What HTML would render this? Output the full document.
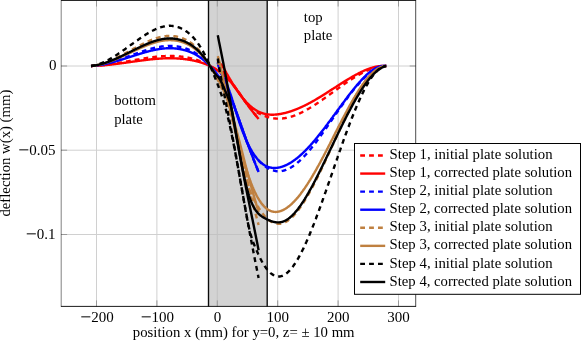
<!DOCTYPE html>
<html><head><meta charset="utf-8"><title>plot</title>
<style>
html,body{margin:0;padding:0;background:#fff;}
body{width:581px;height:341px;overflow:hidden;}
svg{display:block;will-change:transform;opacity:0.999;}
text{font-family:"Liberation Serif",serif;font-size:15px;fill:#000;}
</style></head><body>
<svg width="581" height="341" viewBox="0 0 581 341">
<rect x="0" y="0" width="581" height="341" fill="#fff"/>
<rect x="208.5" y="0.5" width="58.6" height="305.9" fill="#d3d3d3"/>
<line x1="96.5" y1="0.5" x2="96.5" y2="306.4" stroke="#d0d0d0" stroke-width="1"/>
<line x1="156.9" y1="0.5" x2="156.9" y2="306.4" stroke="#d0d0d0" stroke-width="1"/>
<line x1="217.3" y1="0.5" x2="217.3" y2="306.4" stroke="#d0d0d0" stroke-width="1"/>
<line x1="277.7" y1="0.5" x2="277.7" y2="306.4" stroke="#d0d0d0" stroke-width="1"/>
<line x1="338.1" y1="0.5" x2="338.1" y2="306.4" stroke="#d0d0d0" stroke-width="1"/>
<line x1="398.5" y1="0.5" x2="398.5" y2="306.4" stroke="#d0d0d0" stroke-width="1"/>
<line x1="61.1" y1="66.0" x2="415.7" y2="66.0" stroke="#d0d0d0" stroke-width="1"/>
<line x1="61.1" y1="150.2" x2="415.7" y2="150.2" stroke="#d0d0d0" stroke-width="1"/>
<line x1="61.1" y1="234.5" x2="415.7" y2="234.5" stroke="#d0d0d0" stroke-width="1"/>
<line x1="217.3" y1="0.5" x2="217.3" y2="306.4" stroke="#c3c3c3" stroke-width="1"/>
<line x1="208.5" y1="66.00" x2="267.2" y2="66.00" stroke="#c3c3c3" stroke-width="1"/>
<line x1="208.5" y1="150.25" x2="267.2" y2="150.25" stroke="#c3c3c3" stroke-width="1"/>
<line x1="208.5" y1="234.50" x2="267.2" y2="234.50" stroke="#c3c3c3" stroke-width="1"/>
<line x1="96.5" y1="0.5" x2="96.5" y2="6.5" stroke="#999" stroke-width="1"/>
<line x1="96.5" y1="306.4" x2="96.5" y2="300.4" stroke="#999" stroke-width="1"/>
<line x1="156.9" y1="0.5" x2="156.9" y2="6.5" stroke="#999" stroke-width="1"/>
<line x1="156.9" y1="306.4" x2="156.9" y2="300.4" stroke="#999" stroke-width="1"/>
<line x1="217.3" y1="0.5" x2="217.3" y2="6.5" stroke="#999" stroke-width="1"/>
<line x1="217.3" y1="306.4" x2="217.3" y2="300.4" stroke="#999" stroke-width="1"/>
<line x1="277.7" y1="0.5" x2="277.7" y2="6.5" stroke="#999" stroke-width="1"/>
<line x1="277.7" y1="306.4" x2="277.7" y2="300.4" stroke="#999" stroke-width="1"/>
<line x1="338.1" y1="0.5" x2="338.1" y2="6.5" stroke="#999" stroke-width="1"/>
<line x1="338.1" y1="306.4" x2="338.1" y2="300.4" stroke="#999" stroke-width="1"/>
<line x1="398.5" y1="0.5" x2="398.5" y2="6.5" stroke="#999" stroke-width="1"/>
<line x1="398.5" y1="306.4" x2="398.5" y2="300.4" stroke="#999" stroke-width="1"/>
<line x1="61.1" y1="66.0" x2="67.1" y2="66.0" stroke="#999" stroke-width="1"/>
<line x1="415.7" y1="66.0" x2="409.7" y2="66.0" stroke="#999" stroke-width="1"/>
<line x1="61.1" y1="150.2" x2="67.1" y2="150.2" stroke="#999" stroke-width="1"/>
<line x1="415.7" y1="150.2" x2="409.7" y2="150.2" stroke="#999" stroke-width="1"/>
<line x1="61.1" y1="234.5" x2="67.1" y2="234.5" stroke="#999" stroke-width="1"/>
<line x1="415.7" y1="234.5" x2="409.7" y2="234.5" stroke="#999" stroke-width="1"/>
<line x1="208.5" y1="0.5" x2="208.5" y2="306.4" stroke="#0a0a0a" stroke-width="1.35"/>
<line x1="267.2" y1="0.5" x2="267.2" y2="306.4" stroke="#0a0a0a" stroke-width="1.35"/>
<g stroke-linecap="butt" stroke-linejoin="round"><path d="M91.0 66.0 L91.4 66.0 L91.8 66.0 L92.2 66.0 L92.6 65.9 L93.0 65.9 L93.4 65.9 L93.8 65.9 L94.2 65.9 L94.6 65.8 L95.0 65.8 L95.4 65.8 L95.8 65.8 L96.2 65.7 L96.6 65.7 L97.0 65.7 L97.4 65.6 L97.8 65.6 L98.2 65.6 L98.6 65.6 L99.0 65.5 L99.4 65.5 L99.8 65.4 L100.2 65.4 L100.6 65.4 L101.0 65.3 L101.4 65.3 L101.8 65.3 L102.2 65.2 L102.6 65.2 L103.0 65.1 L103.4 65.1 L103.8 65.0 L104.2 65.0 L104.6 64.9 L105.0 64.9 L105.4 64.8 L105.8 64.8 L106.2 64.7 L106.6 64.7 L107.0 64.6 L107.4 64.6 L107.8 64.5 L108.2 64.5 L108.6 64.4 L109.0 64.4 L109.4 64.3 L109.8 64.3 L110.2 64.2 L110.6 64.2 L111.0 64.1 L111.4 64.0 L111.8 64.0 L112.2 63.9 L112.6 63.9 L113.0 63.8 L113.4 63.7 L113.8 63.7 L114.2 63.6 L114.6 63.6 L115.0 63.5 L115.4 63.4 L115.8 63.4 L116.2 63.3 L116.6 63.2 L117.0 63.2 L117.4 63.1 L117.8 63.0 L118.2 63.0 L118.6 62.9 L119.0 62.8 L119.4 62.8 L119.8 62.7 L120.2 62.6 L120.6 62.6 L121.0 62.5 L121.4 62.4 L121.8 62.4 L122.2 62.3 L122.6 62.2 L123.0 62.1 L123.4 62.1 L123.8 62.0 L124.2 61.9 L124.6 61.9 L125.0 61.8 L125.4 61.7 L125.8 61.6 L126.2 61.6 L126.6 61.5 L127.0 61.4 L127.4 61.4 L127.8 61.3 L128.2 61.2 L128.6 61.1 L129.0 61.1 L129.4 61.0 L129.8 60.9 L130.2 60.9 L130.6 60.8 L131.0 60.7 L131.4 60.6 L131.8 60.6 L132.2 60.5 L132.6 60.4 L133.0 60.4 L133.4 60.3 L133.8 60.2 L134.2 60.1 L134.6 60.1 L135.0 60.0 L135.4 59.9 L135.8 59.8 L136.2 59.8 L136.6 59.7 L137.0 59.6 L137.4 59.6 L137.8 59.5 L138.2 59.4 L138.6 59.4 L139.0 59.3 L139.4 59.2 L139.8 59.1 L140.2 59.1 L140.6 59.0 L141.0 58.9 L141.4 58.9 L141.8 58.8 L142.2 58.7 L142.6 58.7 L143.0 58.6 L143.4 58.5 L143.8 58.5 L144.2 58.4 L144.6 58.3 L145.0 58.3 L145.4 58.2 L145.8 58.1 L146.2 58.1 L146.6 58.0 L147.0 58.0 L147.4 57.9 L147.8 57.8 L148.2 57.8 L148.6 57.7 L149.0 57.7 L149.4 57.6 L149.8 57.5 L150.2 57.5 L150.6 57.4 L151.0 57.4 L151.4 57.3 L151.8 57.3 L152.2 57.2 L152.6 57.2 L153.0 57.1 L153.4 57.1 L153.8 57.0 L154.2 57.0 L154.6 56.9 L155.0 56.9 L155.4 56.8 L155.8 56.8 L156.2 56.7 L156.6 56.7 L157.0 56.7 L157.4 56.6 L157.8 56.6 L158.2 56.5 L158.6 56.5 L159.0 56.5 L159.4 56.4 L159.8 56.4 L160.2 56.4 L160.6 56.3 L161.0 56.3 L161.4 56.3 L161.8 56.2 L162.2 56.2 L162.6 56.2 L163.0 56.2 L163.4 56.1 L163.8 56.1 L164.2 56.1 L164.6 56.1 L165.0 56.1 L165.4 56.0 L165.8 56.0 L166.2 56.0 L166.6 56.0 L167.0 56.0 L167.4 56.0 L167.8 56.0 L168.2 56.0 L168.6 56.0 L169.0 56.0 L169.4 56.0 L169.8 56.0 L170.2 56.0 L170.6 56.0 L171.0 56.0 L171.4 56.0 L171.8 56.0 L172.2 56.0 L172.6 56.0 L173.0 56.0 L173.4 56.0 L173.8 56.0 L174.2 56.1 L174.6 56.1 L175.0 56.1 L175.4 56.1 L175.8 56.1 L176.2 56.2 L176.6 56.2 L177.0 56.2 L177.4 56.2 L177.8 56.3 L178.2 56.3 L178.6 56.3 L179.0 56.4 L179.4 56.4 L179.8 56.4 L180.2 56.5 L180.6 56.5 L181.0 56.6 L181.4 56.6 L181.8 56.7 L182.2 56.7 L182.6 56.8 L183.0 56.8 L183.4 56.9 L183.8 56.9 L184.2 57.0 L184.6 57.1 L185.0 57.1 L185.4 57.2 L185.8 57.2 L186.2 57.3 L186.6 57.4 L187.0 57.5 L187.4 57.5 L187.8 57.6 L188.2 57.7 L188.6 57.8 L189.0 57.8 L189.4 57.9 L189.8 58.0 L190.2 58.1 L190.6 58.2 L191.0 58.3 L191.4 58.4 L191.8 58.5 L192.2 58.6 L192.6 58.7 L193.0 58.8 L193.4 58.9 L193.8 59.0 L194.2 59.1 L194.6 59.2 L195.0 59.4 L195.4 59.5 L195.8 59.6 L196.2 59.7 L196.6 59.9 L197.0 60.0 L197.4 60.1 L197.8 60.3 L198.2 60.4 L198.6 60.6 L199.0 60.7 L199.4 60.9 L199.8 61.0 L200.2 61.2 L200.6 61.3 L201.0 61.5 L201.4 61.7 L201.8 61.8 L202.2 62.0 L202.6 62.2 L203.0 62.4 L203.4 62.5 L203.8 62.7 L204.2 62.9 L204.6 63.1 L205.0 63.3 L205.4 63.5 L205.8 63.7 L206.2 63.9 L206.6 64.1 L207.0 64.3 L207.4 64.5 L207.8 64.7 L208.2 64.9 L208.6 65.1 L209.0 65.4 L209.4 65.6 L209.8 65.8 L210.2 66.0 L210.6 66.2 L211.0 66.5 L211.4 66.7 L211.8 66.9 L212.2 67.2 L212.6 67.4 L213.0 67.6 L213.4 67.9 L213.8 68.1 L214.2 68.4 L214.6 68.6 L215.0 68.9 L215.4 69.1 L215.8 69.4 L216.2 69.6 L216.6 69.9 L217.0 70.1 L217.4 70.4 L217.8 70.7 L218.2 70.9 L218.6 71.2 L219.0 71.5 L219.4 71.7 L219.8 72.0 L220.2 72.3 L220.6 72.6 L221.0 72.9 L221.4 73.2 L221.8 73.5 L222.2 73.8 L222.6 74.1 L223.0 74.4 L223.4 74.7 L223.8 75.1 L224.2 75.4 L224.6 75.7 L225.0 76.1 L225.4 76.4 L225.8 76.8 L226.2 77.2 L226.6 77.6 L227.0 77.9 L227.4 78.3 L227.8 78.7 L228.2 79.2 L228.6 79.6 L229.0 80.0 L229.4 80.4 L229.8 80.9 L230.2 81.3 L230.6 81.8 L231.0 82.3 L231.4 82.7 L231.8 83.2 L232.2 83.7 L232.6 84.2 L233.0 84.7 L233.4 85.2 L233.8 85.7 L234.2 86.2 L234.6 86.8 L235.0 87.3 L235.4 87.8 L235.8 88.4 L236.2 88.9 L236.6 89.4 L237.0 90.0 L237.4 90.5 L237.8 91.1 L238.2 91.6 L238.6 92.2 L239.0 92.8 L239.4 93.3 L239.8 93.9 L240.2 94.4 L240.6 95.0 L241.0 95.6 L241.4 96.1 L241.8 96.7 L242.2 97.3 L242.6 97.8 L243.0 98.4 L243.4 99.0 L243.8 99.5 L244.2 100.1 L244.6 100.7 L245.0 101.2 L245.4 101.8 L245.8 102.3 L246.2 102.9 L246.6 103.4 L247.0 104.0 L247.4 104.5 L247.8 105.1 L248.2 105.6 L248.6 106.2 L249.0 106.7 L249.4 107.2 L249.8 107.8 L250.2 108.3 L250.6 108.8 L251.0 109.4 L251.4 109.9 L251.8 110.4 L252.2 110.9 L252.6 111.4 L253.0 112.0 L253.4 112.5 L253.8 113.0 L254.2 113.5 L254.6 114.0 L255.0 114.5 L255.4 115.0 L255.8 115.5 L256.2 116.0 L256.6 116.5 L257.0 117.0 L257.4 117.5 L257.8 118.0 L258.2 118.5 L258.6 119.0" fill="none" stroke="#ff0000" stroke-width="2.4" stroke-dasharray="4.8 4.1"/>
<path d="M217.8 64.1 L218.2 64.9 L218.6 65.5 L219.0 66.2 L219.4 66.8 L219.8 67.4 L220.2 67.9 L220.6 68.5 L221.0 69.0 L221.4 69.5 L221.8 70.0 L222.2 70.5 L222.6 71.0 L223.0 71.5 L223.4 72.0 L223.8 72.5 L224.2 73.0 L224.6 73.5 L225.0 74.0 L225.4 74.5 L225.8 75.0 L226.2 75.5 L226.6 76.0 L227.0 76.5 L227.4 77.0 L227.8 77.5 L228.2 78.0 L228.6 78.5 L229.0 79.1 L229.4 79.6 L229.8 80.1 L230.2 80.6 L230.6 81.2 L231.0 81.7 L231.4 82.2 L231.8 82.7 L232.2 83.3 L232.6 83.8 L233.0 84.4 L233.4 84.9 L233.8 85.5 L234.2 86.0 L234.6 86.6 L235.0 87.1 L235.4 87.7 L235.8 88.2 L236.2 88.8 L236.6 89.3 L237.0 89.9 L237.4 90.5 L237.8 91.0 L238.2 91.6 L238.6 92.2 L239.0 92.7 L239.4 93.3 L239.8 93.9 L240.2 94.4 L240.6 95.0 L241.0 95.6 L241.4 96.2 L241.8 96.7 L242.2 97.3 L242.6 97.9 L243.0 98.4 L243.4 99.0 L243.8 99.6 L244.2 100.1 L244.6 100.7 L245.0 101.3 L245.4 101.8 L245.8 102.4 L246.2 102.9 L246.6 103.5 L247.0 104.0 L247.4 104.5 L247.8 105.0 L248.2 105.5 L248.6 106.0 L249.0 106.4 L249.4 106.9 L249.8 107.3 L250.2 107.7 L250.6 108.0 L251.0 108.4 L251.4 108.7 L251.8 109.0 L252.2 109.3 L252.6 109.6 L253.0 109.9 L253.4 110.2 L253.8 110.4 L254.2 110.7 L254.6 110.9 L255.0 111.2 L255.4 111.4 L255.8 111.6 L256.2 111.9 L256.6 112.1 L257.0 112.3 L257.4 112.6 L257.8 112.8 L258.2 113.0 L258.6 113.2 L259.0 113.4 L259.4 113.6 L259.8 113.8 L260.2 114.0 L260.6 114.2 L261.0 114.4 L261.4 114.6 L261.8 114.8 L262.2 115.0 L262.6 115.2 L263.0 115.3 L263.4 115.5 L263.8 115.7 L264.2 115.8 L264.6 116.0 L265.0 116.1 L265.4 116.3 L265.8 116.4 L266.2 116.6 L266.6 116.7 L267.0 116.8 L267.4 116.9 L267.8 117.1 L268.2 117.2 L268.6 117.3 L269.0 117.4 L269.4 117.5 L269.8 117.6 L270.2 117.7 L270.6 117.8 L271.0 117.9 L271.4 117.9 L271.8 118.0 L272.2 118.1 L272.6 118.1 L273.0 118.2 L273.4 118.3 L273.8 118.3 L274.2 118.4 L274.6 118.4 L275.0 118.5 L275.4 118.5 L275.8 118.5 L276.2 118.6 L276.6 118.6 L277.0 118.6 L277.4 118.6 L277.8 118.6 L278.2 118.6 L278.6 118.6 L279.0 118.6 L279.4 118.6 L279.8 118.6 L280.2 118.6 L280.6 118.6 L281.0 118.6 L281.4 118.5 L281.8 118.5 L282.2 118.5 L282.6 118.4 L283.0 118.4 L283.4 118.3 L283.8 118.3 L284.2 118.2 L284.6 118.2 L285.0 118.1 L285.4 118.0 L285.8 118.0 L286.2 117.9 L286.6 117.8 L287.0 117.7 L287.4 117.7 L287.8 117.6 L288.2 117.5 L288.6 117.4 L289.0 117.3 L289.4 117.2 L289.8 117.1 L290.2 117.0 L290.6 116.8 L291.0 116.7 L291.4 116.6 L291.8 116.5 L292.2 116.4 L292.6 116.2 L293.0 116.1 L293.4 116.0 L293.8 115.8 L294.2 115.7 L294.6 115.5 L295.0 115.4 L295.4 115.2 L295.8 115.1 L296.2 114.9 L296.6 114.7 L297.0 114.6 L297.4 114.4 L297.8 114.2 L298.2 114.1 L298.6 113.9 L299.0 113.7 L299.4 113.5 L299.8 113.4 L300.2 113.2 L300.6 113.0 L301.0 112.8 L301.4 112.6 L301.8 112.4 L302.2 112.2 L302.6 112.0 L303.0 111.8 L303.4 111.6 L303.8 111.4 L304.2 111.2 L304.6 111.0 L305.0 110.7 L305.4 110.5 L305.8 110.3 L306.2 110.1 L306.6 109.9 L307.0 109.6 L307.4 109.4 L307.8 109.2 L308.2 108.9 L308.6 108.7 L309.0 108.5 L309.4 108.2 L309.8 108.0 L310.2 107.8 L310.6 107.5 L311.0 107.3 L311.4 107.0 L311.8 106.8 L312.2 106.5 L312.6 106.3 L313.0 106.0 L313.4 105.8 L313.8 105.5 L314.2 105.3 L314.6 105.0 L315.0 104.7 L315.4 104.5 L315.8 104.2 L316.2 104.0 L316.6 103.7 L317.0 103.4 L317.4 103.2 L317.8 102.9 L318.2 102.6 L318.6 102.3 L319.0 102.1 L319.4 101.8 L319.8 101.5 L320.2 101.2 L320.6 101.0 L321.0 100.7 L321.4 100.4 L321.8 100.1 L322.2 99.9 L322.6 99.6 L323.0 99.3 L323.4 99.0 L323.8 98.7 L324.2 98.5 L324.6 98.2 L325.0 97.9 L325.4 97.6 L325.8 97.3 L326.2 97.0 L326.6 96.7 L327.0 96.5 L327.4 96.2 L327.8 95.9 L328.2 95.6 L328.6 95.3 L329.0 95.0 L329.4 94.7 L329.8 94.4 L330.2 94.1 L330.6 93.9 L331.0 93.6 L331.4 93.3 L331.8 93.0 L332.2 92.7 L332.6 92.4 L333.0 92.1 L333.4 91.8 L333.8 91.5 L334.2 91.3 L334.6 91.0 L335.0 90.7 L335.4 90.4 L335.8 90.1 L336.2 89.8 L336.6 89.5 L337.0 89.2 L337.4 88.9 L337.8 88.7 L338.2 88.4 L338.6 88.1 L339.0 87.8 L339.4 87.5 L339.8 87.2 L340.2 86.9 L340.6 86.7 L341.0 86.4 L341.4 86.1 L341.8 85.8 L342.2 85.5 L342.6 85.2 L343.0 85.0 L343.4 84.7 L343.8 84.4 L344.2 84.1 L344.6 83.9 L345.0 83.6 L345.4 83.3 L345.8 83.0 L346.2 82.8 L346.6 82.5 L347.0 82.2 L347.4 81.9 L347.8 81.7 L348.2 81.4 L348.6 81.1 L349.0 80.9 L349.4 80.6 L349.8 80.4 L350.2 80.1 L350.6 79.8 L351.0 79.6 L351.4 79.3 L351.8 79.1 L352.2 78.8 L352.6 78.6 L353.0 78.3 L353.4 78.1 L353.8 77.8 L354.2 77.6 L354.6 77.3 L355.0 77.1 L355.4 76.8 L355.8 76.6 L356.2 76.3 L356.6 76.1 L357.0 75.9 L357.4 75.6 L357.8 75.4 L358.2 75.2 L358.6 75.0 L359.0 74.7 L359.4 74.5 L359.8 74.3 L360.2 74.1 L360.6 73.9 L361.0 73.6 L361.4 73.4 L361.8 73.2 L362.2 73.0 L362.6 72.8 L363.0 72.6 L363.4 72.4 L363.8 72.2 L364.2 72.0 L364.6 71.8 L365.0 71.6 L365.4 71.4 L365.8 71.2 L366.2 71.1 L366.6 70.9 L367.0 70.7 L367.4 70.5 L367.8 70.3 L368.2 70.2 L368.6 70.0 L369.0 69.8 L369.4 69.7 L369.8 69.5 L370.2 69.4 L370.6 69.2 L371.0 69.1 L371.4 68.9 L371.8 68.8 L372.2 68.6 L372.6 68.5 L373.0 68.4 L373.4 68.2 L373.8 68.1 L374.2 68.0 L374.6 67.9 L375.0 67.7 L375.4 67.6 L375.8 67.5 L376.2 67.4 L376.6 67.3 L377.0 67.2 L377.4 67.1 L377.8 67.0 L378.2 66.9 L378.6 66.9 L379.0 66.8 L379.4 66.7 L379.8 66.6 L380.2 66.6 L380.6 66.5 L381.0 66.4 L381.4 66.4 L381.8 66.3 L382.2 66.3 L382.6 66.2 L383.0 66.2 L383.4 66.1 L383.8 66.1 L384.2 66.1 L384.6 66.1 L385.0 66.0 L385.4 66.0 L385.8 66.0 L386.2 66.0" fill="none" stroke="#ff0000" stroke-width="2.4" stroke-dasharray="4.8 4.1"/>
<path d="M91.0 66.0 L91.4 66.0 L91.8 66.0 L92.2 66.0 L92.6 66.0 L93.0 65.9 L93.4 65.9 L93.8 65.9 L94.2 65.9 L94.6 65.9 L95.0 65.9 L95.4 65.8 L95.8 65.8 L96.2 65.8 L96.6 65.8 L97.0 65.8 L97.4 65.7 L97.8 65.7 L98.2 65.7 L98.6 65.7 L99.0 65.6 L99.4 65.6 L99.8 65.6 L100.2 65.5 L100.6 65.5 L101.0 65.5 L101.4 65.5 L101.8 65.4 L102.2 65.4 L102.6 65.4 L103.0 65.3 L103.4 65.3 L103.8 65.3 L104.2 65.2 L104.6 65.2 L105.0 65.2 L105.4 65.1 L105.8 65.1 L106.2 65.0 L106.6 65.0 L107.0 65.0 L107.4 64.9 L107.8 64.9 L108.2 64.8 L108.6 64.8 L109.0 64.8 L109.4 64.7 L109.8 64.7 L110.2 64.6 L110.6 64.6 L111.0 64.5 L111.4 64.5 L111.8 64.4 L112.2 64.4 L112.6 64.4 L113.0 64.3 L113.4 64.3 L113.8 64.2 L114.2 64.2 L114.6 64.1 L115.0 64.1 L115.4 64.0 L115.8 64.0 L116.2 63.9 L116.6 63.9 L117.0 63.8 L117.4 63.8 L117.8 63.7 L118.2 63.7 L118.6 63.6 L119.0 63.6 L119.4 63.5 L119.8 63.5 L120.2 63.4 L120.6 63.4 L121.0 63.3 L121.4 63.2 L121.8 63.2 L122.2 63.1 L122.6 63.1 L123.0 63.0 L123.4 63.0 L123.8 62.9 L124.2 62.9 L124.6 62.8 L125.0 62.8 L125.4 62.7 L125.8 62.7 L126.2 62.6 L126.6 62.5 L127.0 62.5 L127.4 62.4 L127.8 62.4 L128.2 62.3 L128.6 62.3 L129.0 62.2 L129.4 62.2 L129.8 62.1 L130.2 62.0 L130.6 62.0 L131.0 61.9 L131.4 61.9 L131.8 61.8 L132.2 61.8 L132.6 61.7 L133.0 61.6 L133.4 61.6 L133.8 61.5 L134.2 61.5 L134.6 61.4 L135.0 61.4 L135.4 61.3 L135.8 61.3 L136.2 61.2 L136.6 61.2 L137.0 61.1 L137.4 61.0 L137.8 61.0 L138.2 60.9 L138.6 60.9 L139.0 60.8 L139.4 60.8 L139.8 60.7 L140.2 60.7 L140.6 60.6 L141.0 60.6 L141.4 60.5 L141.8 60.5 L142.2 60.4 L142.6 60.4 L143.0 60.3 L143.4 60.3 L143.8 60.2 L144.2 60.2 L144.6 60.1 L145.0 60.1 L145.4 60.0 L145.8 60.0 L146.2 59.9 L146.6 59.9 L147.0 59.8 L147.4 59.8 L147.8 59.7 L148.2 59.7 L148.6 59.6 L149.0 59.6 L149.4 59.5 L149.8 59.5 L150.2 59.4 L150.6 59.4 L151.0 59.4 L151.4 59.3 L151.8 59.3 L152.2 59.2 L152.6 59.2 L153.0 59.2 L153.4 59.1 L153.8 59.1 L154.2 59.0 L154.6 59.0 L155.0 59.0 L155.4 58.9 L155.8 58.9 L156.2 58.9 L156.6 58.8 L157.0 58.8 L157.4 58.8 L157.8 58.7 L158.2 58.7 L158.6 58.7 L159.0 58.7 L159.4 58.6 L159.8 58.6 L160.2 58.6 L160.6 58.6 L161.0 58.5 L161.4 58.5 L161.8 58.5 L162.2 58.5 L162.6 58.4 L163.0 58.4 L163.4 58.4 L163.8 58.4 L164.2 58.4 L164.6 58.4 L165.0 58.3 L165.4 58.3 L165.8 58.3 L166.2 58.3 L166.6 58.3 L167.0 58.3 L167.4 58.3 L167.8 58.3 L168.2 58.3 L168.6 58.3 L169.0 58.3 L169.4 58.3 L169.8 58.3 L170.2 58.3 L170.6 58.3 L171.0 58.3 L171.4 58.3 L171.8 58.3 L172.2 58.3 L172.6 58.3 L173.0 58.3 L173.4 58.3 L173.8 58.3 L174.2 58.3 L174.6 58.4 L175.0 58.4 L175.4 58.4 L175.8 58.4 L176.2 58.4 L176.6 58.4 L177.0 58.5 L177.4 58.5 L177.8 58.5 L178.2 58.5 L178.6 58.6 L179.0 58.6 L179.4 58.6 L179.8 58.6 L180.2 58.7 L180.6 58.7 L181.0 58.7 L181.4 58.8 L181.8 58.8 L182.2 58.9 L182.6 58.9 L183.0 58.9 L183.4 59.0 L183.8 59.0 L184.2 59.1 L184.6 59.1 L185.0 59.2 L185.4 59.2 L185.8 59.3 L186.2 59.3 L186.6 59.4 L187.0 59.4 L187.4 59.5 L187.8 59.5 L188.2 59.6 L188.6 59.7 L189.0 59.7 L189.4 59.8 L189.8 59.9 L190.2 59.9 L190.6 60.0 L191.0 60.1 L191.4 60.1 L191.8 60.2 L192.2 60.3 L192.6 60.4 L193.0 60.5 L193.4 60.5 L193.8 60.6 L194.2 60.7 L194.6 60.8 L195.0 60.9 L195.4 61.0 L195.8 61.1 L196.2 61.2 L196.6 61.3 L197.0 61.4 L197.4 61.5 L197.8 61.6 L198.2 61.7 L198.6 61.8 L199.0 61.9 L199.4 62.0 L199.8 62.2 L200.2 62.3 L200.6 62.4 L201.0 62.5 L201.4 62.7 L201.8 62.8 L202.2 62.9 L202.6 63.1 L203.0 63.2 L203.4 63.3 L203.8 63.5 L204.2 63.6 L204.6 63.7 L205.0 63.9 L205.4 64.0 L205.8 64.2 L206.2 64.3 L206.6 64.5 L207.0 64.6 L207.4 64.8 L207.8 65.0 L208.2 65.1 L208.6 65.3 L209.0 65.5 L209.4 65.6 L209.8 65.8 L210.2 66.0 L210.6 66.2 L211.0 66.4 L211.4 66.6 L211.8 66.8 L212.2 67.0 L212.6 67.3 L213.0 67.5 L213.4 67.7 L213.8 67.9 L214.2 68.2 L214.6 68.4 L215.0 68.7 L215.4 68.9 L215.8 69.2 L216.2 69.4 L216.6 69.7 L217.0 70.0 L217.4 70.3 L217.8 70.5 L218.2 70.8 L218.6 71.1 L219.0 71.4 L219.4 71.7 L219.8 72.0 L220.2 72.3 L220.6 72.6 L221.0 72.9 L221.4 73.2 L221.8 73.5 L222.2 73.8 L222.6 74.1 L223.0 74.4 L223.4 74.7 L223.8 75.1 L224.2 75.4 L224.6 75.7 L225.0 76.1 L225.4 76.4 L225.8 76.8 L226.2 77.2 L226.6 77.6 L227.0 77.9 L227.4 78.3 L227.8 78.7 L228.2 79.2 L228.6 79.6 L229.0 80.0 L229.4 80.4 L229.8 80.9 L230.2 81.3 L230.6 81.8 L231.0 82.3 L231.4 82.7 L231.8 83.2 L232.2 83.7 L232.6 84.2 L233.0 84.7 L233.4 85.2 L233.8 85.7 L234.2 86.2 L234.6 86.8 L235.0 87.3 L235.4 87.8 L235.8 88.4 L236.2 88.9 L236.6 89.4 L237.0 90.0 L237.4 90.5 L237.8 91.1 L238.2 91.6 L238.6 92.2 L239.0 92.8 L239.4 93.3 L239.8 93.9 L240.2 94.4 L240.6 95.0 L241.0 95.6 L241.4 96.1 L241.8 96.7 L242.2 97.3 L242.6 97.8 L243.0 98.4 L243.4 99.0 L243.8 99.5 L244.2 100.1 L244.6 100.7 L245.0 101.2 L245.4 101.8 L245.8 102.3 L246.2 102.9 L246.6 103.4 L247.0 104.0 L247.4 104.5 L247.8 105.1 L248.2 105.6 L248.6 106.2 L249.0 106.7 L249.4 107.2 L249.8 107.8 L250.2 108.3 L250.6 108.8 L251.0 109.4 L251.4 109.9 L251.8 110.4 L252.2 110.9 L252.6 111.4 L253.0 112.0 L253.4 112.5 L253.8 113.0 L254.2 113.5 L254.6 114.0 L255.0 114.5 L255.4 115.0 L255.8 115.5 L256.2 116.0 L256.6 116.5 L257.0 117.0 L257.4 117.5 L257.8 118.0 L258.2 118.5 L258.6 119.0" fill="none" stroke="#ff0000" stroke-width="2.4"/>
<path d="M217.8 64.8 L218.2 64.3 L218.6 64.0 L219.0 63.8 L219.4 63.7 L219.8 63.7 L220.2 63.8 L220.6 64.1 L221.0 64.4 L221.4 64.7 L221.8 65.2 L222.2 65.7 L222.6 66.3 L223.0 66.9 L223.4 67.6 L223.8 68.2 L224.2 69.0 L224.6 69.7 L225.0 70.4 L225.4 71.1 L225.8 71.8 L226.2 72.6 L226.6 73.3 L227.0 74.0 L227.4 74.7 L227.8 75.4 L228.2 76.1 L228.6 76.8 L229.0 77.5 L229.4 78.2 L229.8 78.9 L230.2 79.5 L230.6 80.2 L231.0 80.9 L231.4 81.5 L231.8 82.2 L232.2 82.9 L232.6 83.5 L233.0 84.2 L233.4 84.8 L233.8 85.4 L234.2 86.1 L234.6 86.7 L235.0 87.3 L235.4 87.9 L235.8 88.5 L236.2 89.1 L236.6 89.7 L237.0 90.3 L237.4 90.9 L237.8 91.5 L238.2 92.1 L238.6 92.6 L239.0 93.2 L239.4 93.7 L239.8 94.3 L240.2 94.8 L240.6 95.4 L241.0 95.9 L241.4 96.4 L241.8 96.9 L242.2 97.4 L242.6 97.9 L243.0 98.4 L243.4 98.9 L243.8 99.3 L244.2 99.8 L244.6 100.3 L245.0 100.7 L245.4 101.2 L245.8 101.6 L246.2 102.0 L246.6 102.5 L247.0 102.9 L247.4 103.3 L247.8 103.7 L248.2 104.1 L248.6 104.5 L249.0 104.8 L249.4 105.2 L249.8 105.6 L250.2 105.9 L250.6 106.3 L251.0 106.6 L251.4 106.9 L251.8 107.3 L252.2 107.6 L252.6 107.9 L253.0 108.2 L253.4 108.5 L253.8 108.8 L254.2 109.1 L254.6 109.3 L255.0 109.6 L255.4 109.9 L255.8 110.1 L256.2 110.4 L256.6 110.6 L257.0 110.8 L257.4 111.0 L257.8 111.2 L258.2 111.5 L258.6 111.7 L259.0 111.8 L259.4 112.0 L259.8 112.2 L260.2 112.4 L260.6 112.5 L261.0 112.7 L261.4 112.8 L261.8 113.0 L262.2 113.1 L262.6 113.3 L263.0 113.4 L263.4 113.5 L263.8 113.6 L264.2 113.7 L264.6 113.8 L265.0 113.9 L265.4 114.0 L265.8 114.1 L266.2 114.2 L266.6 114.2 L267.0 114.3 L267.4 114.4 L267.8 114.4 L268.2 114.5 L268.6 114.5 L269.0 114.5 L269.4 114.6 L269.8 114.6 L270.2 114.6 L270.6 114.7 L271.0 114.7 L271.4 114.7 L271.8 114.7 L272.2 114.7 L272.6 114.7 L273.0 114.7 L273.4 114.7 L273.8 114.7 L274.2 114.6 L274.6 114.6 L275.0 114.6 L275.4 114.6 L275.8 114.5 L276.2 114.5 L276.6 114.5 L277.0 114.4 L277.4 114.4 L277.8 114.3 L278.2 114.3 L278.6 114.2 L279.0 114.2 L279.4 114.1 L279.8 114.0 L280.2 114.0 L280.6 113.9 L281.0 113.8 L281.4 113.8 L281.8 113.7 L282.2 113.6 L282.6 113.5 L283.0 113.4 L283.4 113.3 L283.8 113.3 L284.2 113.2 L284.6 113.1 L285.0 113.0 L285.4 112.9 L285.8 112.8 L286.2 112.7 L286.6 112.6 L287.0 112.4 L287.4 112.3 L287.8 112.2 L288.2 112.1 L288.6 112.0 L289.0 111.9 L289.4 111.7 L289.8 111.6 L290.2 111.5 L290.6 111.4 L291.0 111.2 L291.4 111.1 L291.8 111.0 L292.2 110.8 L292.6 110.7 L293.0 110.5 L293.4 110.4 L293.8 110.2 L294.2 110.1 L294.6 109.9 L295.0 109.8 L295.4 109.6 L295.8 109.5 L296.2 109.3 L296.6 109.2 L297.0 109.0 L297.4 108.8 L297.8 108.7 L298.2 108.5 L298.6 108.3 L299.0 108.2 L299.4 108.0 L299.8 107.8 L300.2 107.6 L300.6 107.5 L301.0 107.3 L301.4 107.1 L301.8 106.9 L302.2 106.7 L302.6 106.5 L303.0 106.3 L303.4 106.2 L303.8 106.0 L304.2 105.8 L304.6 105.6 L305.0 105.4 L305.4 105.2 L305.8 105.0 L306.2 104.8 L306.6 104.6 L307.0 104.4 L307.4 104.2 L307.8 104.0 L308.2 103.7 L308.6 103.5 L309.0 103.3 L309.4 103.1 L309.8 102.9 L310.2 102.7 L310.6 102.5 L311.0 102.2 L311.4 102.0 L311.8 101.8 L312.2 101.6 L312.6 101.4 L313.0 101.1 L313.4 100.9 L313.8 100.7 L314.2 100.5 L314.6 100.2 L315.0 100.0 L315.4 99.8 L315.8 99.5 L316.2 99.3 L316.6 99.1 L317.0 98.8 L317.4 98.6 L317.8 98.3 L318.2 98.1 L318.6 97.9 L319.0 97.6 L319.4 97.4 L319.8 97.1 L320.2 96.9 L320.6 96.7 L321.0 96.4 L321.4 96.2 L321.8 95.9 L322.2 95.7 L322.6 95.4 L323.0 95.2 L323.4 94.9 L323.8 94.7 L324.2 94.4 L324.6 94.2 L325.0 93.9 L325.4 93.7 L325.8 93.4 L326.2 93.2 L326.6 92.9 L327.0 92.6 L327.4 92.4 L327.8 92.1 L328.2 91.9 L328.6 91.6 L329.0 91.4 L329.4 91.1 L329.8 90.8 L330.2 90.6 L330.6 90.3 L331.0 90.1 L331.4 89.8 L331.8 89.6 L332.2 89.3 L332.6 89.0 L333.0 88.8 L333.4 88.5 L333.8 88.3 L334.2 88.0 L334.6 87.7 L335.0 87.5 L335.4 87.2 L335.8 87.0 L336.2 86.7 L336.6 86.5 L337.0 86.2 L337.4 85.9 L337.8 85.7 L338.2 85.4 L338.6 85.2 L339.0 84.9 L339.4 84.7 L339.8 84.4 L340.2 84.1 L340.6 83.9 L341.0 83.6 L341.4 83.4 L341.8 83.1 L342.2 82.9 L342.6 82.6 L343.0 82.4 L343.4 82.1 L343.8 81.9 L344.2 81.6 L344.6 81.4 L345.0 81.1 L345.4 80.9 L345.8 80.6 L346.2 80.4 L346.6 80.1 L347.0 79.9 L347.4 79.7 L347.8 79.4 L348.2 79.2 L348.6 78.9 L349.0 78.7 L349.4 78.5 L349.8 78.2 L350.2 78.0 L350.6 77.7 L351.0 77.5 L351.4 77.3 L351.8 77.1 L352.2 76.8 L352.6 76.6 L353.0 76.4 L353.4 76.1 L353.8 75.9 L354.2 75.7 L354.6 75.5 L355.0 75.2 L355.4 75.0 L355.8 74.8 L356.2 74.6 L356.6 74.4 L357.0 74.2 L357.4 74.0 L357.8 73.7 L358.2 73.5 L358.6 73.3 L359.0 73.1 L359.4 72.9 L359.8 72.7 L360.2 72.5 L360.6 72.3 L361.0 72.1 L361.4 71.9 L361.8 71.7 L362.2 71.6 L362.6 71.4 L363.0 71.2 L363.4 71.0 L363.8 70.8 L364.2 70.6 L364.6 70.5 L365.0 70.3 L365.4 70.1 L365.8 70.0 L366.2 69.8 L366.6 69.6 L367.0 69.5 L367.4 69.3 L367.8 69.2 L368.2 69.0 L368.6 68.9 L369.0 68.7 L369.4 68.6 L369.8 68.4 L370.2 68.3 L370.6 68.2 L371.0 68.0 L371.4 67.9 L371.8 67.8 L372.2 67.7 L372.6 67.6 L373.0 67.4 L373.4 67.3 L373.8 67.2 L374.2 67.1 L374.6 67.0 L375.0 66.9 L375.4 66.8 L375.8 66.8 L376.2 66.7 L376.6 66.6 L377.0 66.5 L377.4 66.5 L377.8 66.4 L378.2 66.3 L378.6 66.3 L379.0 66.2 L379.4 66.2 L379.8 66.1 L380.2 66.1 L380.6 66.0 L381.0 66.0 L381.4 66.0 L381.8 65.9 L382.2 65.9 L382.6 65.9 L383.0 65.9 L383.4 65.9 L383.8 65.9 L384.2 65.9 L384.6 65.9 L385.0 65.9 L385.4 65.9 L385.8 66.0 L386.2 66.0" fill="none" stroke="#ff0000" stroke-width="2.4"/>
<path d="M91.0 66.0 L91.4 66.0 L91.8 65.9 L92.2 65.9 L92.6 65.9 L93.0 65.8 L93.4 65.8 L93.8 65.8 L94.2 65.7 L94.6 65.7 L95.0 65.6 L95.4 65.6 L95.8 65.5 L96.2 65.5 L96.6 65.4 L97.0 65.4 L97.4 65.3 L97.8 65.2 L98.2 65.2 L98.6 65.1 L99.0 65.0 L99.4 65.0 L99.8 64.9 L100.2 64.8 L100.6 64.7 L101.0 64.7 L101.4 64.6 L101.8 64.5 L102.2 64.4 L102.6 64.3 L103.0 64.3 L103.4 64.2 L103.8 64.1 L104.2 64.0 L104.6 63.9 L105.0 63.8 L105.4 63.7 L105.8 63.6 L106.2 63.5 L106.6 63.4 L107.0 63.3 L107.4 63.2 L107.8 63.1 L108.2 63.0 L108.6 62.9 L109.0 62.8 L109.4 62.7 L109.8 62.5 L110.2 62.4 L110.6 62.3 L111.0 62.2 L111.4 62.1 L111.8 62.0 L112.2 61.8 L112.6 61.7 L113.0 61.6 L113.4 61.5 L113.8 61.4 L114.2 61.2 L114.6 61.1 L115.0 61.0 L115.4 60.9 L115.8 60.7 L116.2 60.6 L116.6 60.5 L117.0 60.3 L117.4 60.2 L117.8 60.1 L118.2 59.9 L118.6 59.8 L119.0 59.7 L119.4 59.5 L119.8 59.4 L120.2 59.3 L120.6 59.1 L121.0 59.0 L121.4 58.9 L121.8 58.7 L122.2 58.6 L122.6 58.4 L123.0 58.3 L123.4 58.2 L123.8 58.0 L124.2 57.9 L124.6 57.7 L125.0 57.6 L125.4 57.4 L125.8 57.3 L126.2 57.2 L126.6 57.0 L127.0 56.9 L127.4 56.7 L127.8 56.6 L128.2 56.4 L128.6 56.3 L129.0 56.1 L129.4 56.0 L129.8 55.9 L130.2 55.7 L130.6 55.6 L131.0 55.4 L131.4 55.3 L131.8 55.1 L132.2 55.0 L132.6 54.8 L133.0 54.7 L133.4 54.6 L133.8 54.4 L134.2 54.3 L134.6 54.1 L135.0 54.0 L135.4 53.8 L135.8 53.7 L136.2 53.6 L136.6 53.4 L137.0 53.3 L137.4 53.1 L137.8 53.0 L138.2 52.8 L138.6 52.7 L139.0 52.6 L139.4 52.4 L139.8 52.3 L140.2 52.1 L140.6 52.0 L141.0 51.9 L141.4 51.7 L141.8 51.6 L142.2 51.5 L142.6 51.3 L143.0 51.2 L143.4 51.1 L143.8 50.9 L144.2 50.8 L144.6 50.7 L145.0 50.5 L145.4 50.4 L145.8 50.3 L146.2 50.2 L146.6 50.0 L147.0 49.9 L147.4 49.8 L147.8 49.7 L148.2 49.6 L148.6 49.4 L149.0 49.3 L149.4 49.2 L149.8 49.1 L150.2 49.0 L150.6 48.9 L151.0 48.8 L151.4 48.6 L151.8 48.5 L152.2 48.4 L152.6 48.3 L153.0 48.2 L153.4 48.1 L153.8 48.0 L154.2 47.9 L154.6 47.8 L155.0 47.7 L155.4 47.7 L155.8 47.6 L156.2 47.5 L156.6 47.4 L157.0 47.3 L157.4 47.2 L157.8 47.2 L158.2 47.1 L158.6 47.0 L159.0 46.9 L159.4 46.9 L159.8 46.8 L160.2 46.7 L160.6 46.7 L161.0 46.6 L161.4 46.5 L161.8 46.5 L162.2 46.4 L162.6 46.4 L163.0 46.3 L163.4 46.3 L163.8 46.2 L164.2 46.2 L164.6 46.2 L165.0 46.1 L165.4 46.1 L165.8 46.1 L166.2 46.0 L166.6 46.0 L167.0 46.0 L167.4 46.0 L167.8 46.0 L168.2 45.9 L168.6 45.9 L169.0 45.9 L169.4 45.9 L169.8 45.9 L170.2 45.9 L170.6 45.9 L171.0 45.9 L171.4 45.9 L171.8 46.0 L172.2 46.0 L172.6 46.0 L173.0 46.0 L173.4 46.0 L173.8 46.1 L174.2 46.1 L174.6 46.1 L175.0 46.2 L175.4 46.2 L175.8 46.3 L176.2 46.3 L176.6 46.4 L177.0 46.4 L177.4 46.5 L177.8 46.5 L178.2 46.6 L178.6 46.7 L179.0 46.7 L179.4 46.8 L179.8 46.9 L180.2 47.0 L180.6 47.1 L181.0 47.2 L181.4 47.2 L181.8 47.3 L182.2 47.4 L182.6 47.5 L183.0 47.7 L183.4 47.8 L183.8 47.9 L184.2 48.0 L184.6 48.1 L185.0 48.2 L185.4 48.4 L185.8 48.5 L186.2 48.6 L186.6 48.8 L187.0 48.9 L187.4 49.1 L187.8 49.2 L188.2 49.4 L188.6 49.5 L189.0 49.7 L189.4 49.9 L189.8 50.0 L190.2 50.2 L190.6 50.4 L191.0 50.6 L191.4 50.8 L191.8 51.0 L192.2 51.2 L192.6 51.4 L193.0 51.6 L193.4 51.8 L193.8 52.0 L194.2 52.3 L194.6 52.5 L195.0 52.7 L195.4 53.0 L195.8 53.2 L196.2 53.5 L196.6 53.7 L197.0 54.0 L197.4 54.3 L197.8 54.5 L198.2 54.8 L198.6 55.1 L199.0 55.4 L199.4 55.7 L199.8 56.0 L200.2 56.3 L200.6 56.7 L201.0 57.0 L201.4 57.3 L201.8 57.7 L202.2 58.0 L202.6 58.4 L203.0 58.7 L203.4 59.1 L203.8 59.4 L204.2 59.8 L204.6 60.2 L205.0 60.6 L205.4 61.0 L205.8 61.4 L206.2 61.8 L206.6 62.2 L207.0 62.6 L207.4 63.0 L207.8 63.4 L208.2 63.8 L208.6 64.3 L209.0 64.7 L209.4 65.1 L209.8 65.6 L210.2 66.0 L210.6 66.5 L211.0 66.9 L211.4 67.4 L211.8 67.9 L212.2 68.3 L212.6 68.8 L213.0 69.3 L213.4 69.8 L213.8 70.3 L214.2 70.8 L214.6 71.3 L215.0 71.7 L215.4 72.3 L215.8 72.8 L216.2 73.3 L216.6 73.8 L217.0 74.3 L217.4 74.8 L217.8 75.3 L218.2 75.9 L218.6 76.4 L219.0 76.9 L219.4 77.5 L219.8 78.0 L220.2 78.6 L220.6 79.2 L221.0 79.8 L221.4 80.4 L221.8 81.0 L222.2 81.6 L222.6 82.2 L223.0 82.8 L223.4 83.5 L223.8 84.1 L224.2 84.8 L224.6 85.5 L225.0 86.2 L225.4 86.9 L225.8 87.6 L226.2 88.4 L226.6 89.1 L227.0 89.9 L227.4 90.7 L227.8 91.5 L228.2 92.3 L228.6 93.2 L229.0 94.0 L229.4 94.9 L229.8 95.8 L230.2 96.7 L230.6 97.6 L231.0 98.5 L231.4 99.5 L231.8 100.5 L232.2 101.4 L232.6 102.4 L233.0 103.4 L233.4 104.4 L233.8 105.5 L234.2 106.5 L234.6 107.5 L235.0 108.6 L235.4 109.7 L235.8 110.7 L236.2 111.8 L236.6 112.9 L237.0 114.0 L237.4 115.1 L237.8 116.2 L238.2 117.3 L238.6 118.4 L239.0 119.5 L239.4 120.6 L239.8 121.8 L240.2 122.9 L240.6 124.0 L241.0 125.1 L241.4 126.3 L241.8 127.4 L242.2 128.5 L242.6 129.7 L243.0 130.8 L243.4 131.9 L243.8 133.1 L244.2 134.2 L244.6 135.3 L245.0 136.4 L245.4 137.5 L245.8 138.6 L246.2 139.8 L246.6 140.9 L247.0 142.0 L247.4 143.0 L247.8 144.1 L248.2 145.2 L248.6 146.3 L249.0 147.4 L249.4 148.5 L249.8 149.5 L250.2 150.6 L250.6 151.6 L251.0 152.7 L251.4 153.8 L251.8 154.8 L252.2 155.8 L252.6 156.9 L253.0 157.9 L253.4 159.0 L253.8 160.0 L254.2 161.0 L254.6 162.0 L255.0 163.0 L255.4 164.0 L255.8 165.1 L256.2 166.1 L256.6 167.0 L257.0 168.0 L257.4 169.0 L257.8 170.0 L258.2 171.0 L258.6 172.0" fill="none" stroke="#0000ff" stroke-width="2.4" stroke-dasharray="4.8 4.1"/>
<path d="M217.8 62.3 L218.2 63.7 L218.6 65.1 L219.0 66.4 L219.4 67.6 L219.8 68.7 L220.2 69.8 L220.6 70.9 L221.0 72.0 L221.4 73.0 L221.8 74.0 L222.2 75.0 L222.6 76.0 L223.0 77.0 L223.4 78.0 L223.8 79.0 L224.2 80.0 L224.6 81.0 L225.0 82.0 L225.4 83.0 L225.8 84.0 L226.2 85.0 L226.6 86.0 L227.0 87.0 L227.4 88.0 L227.8 89.0 L228.2 90.1 L228.6 91.1 L229.0 92.1 L229.4 93.2 L229.8 94.2 L230.2 95.3 L230.6 96.3 L231.0 97.4 L231.4 98.4 L231.8 99.5 L232.2 100.6 L232.6 101.7 L233.0 102.7 L233.4 103.8 L233.8 104.9 L234.2 106.0 L234.6 107.1 L235.0 108.2 L235.4 109.3 L235.8 110.4 L236.2 111.6 L236.6 112.7 L237.0 113.8 L237.4 114.9 L237.8 116.1 L238.2 117.2 L238.6 118.3 L239.0 119.5 L239.4 120.6 L239.8 121.8 L240.2 122.9 L240.6 124.0 L241.0 125.2 L241.4 126.3 L241.8 127.5 L242.2 128.6 L242.6 129.7 L243.0 130.9 L243.4 132.0 L243.8 133.2 L244.2 134.3 L244.6 135.4 L245.0 136.6 L245.4 137.7 L245.8 138.8 L246.2 139.9 L246.6 141.0 L247.0 142.0 L247.4 143.0 L247.8 144.0 L248.2 145.0 L248.6 146.0 L249.0 146.9 L249.4 147.7 L249.8 148.6 L250.2 149.4 L250.6 150.1 L251.0 150.8 L251.4 151.5 L251.8 152.1 L252.2 152.7 L252.6 153.3 L253.0 153.8 L253.4 154.3 L253.8 154.9 L254.2 155.4 L254.6 155.8 L255.0 156.3 L255.4 156.8 L255.8 157.3 L256.2 157.7 L256.6 158.2 L257.0 158.7 L257.4 159.1 L257.8 159.5 L258.2 160.0 L258.6 160.4 L259.0 160.8 L259.4 161.3 L259.8 161.7 L260.2 162.1 L260.6 162.5 L261.0 162.9 L261.4 163.3 L261.8 163.6 L262.2 164.0 L262.6 164.3 L263.0 164.7 L263.4 165.0 L263.8 165.4 L264.2 165.7 L264.6 166.0 L265.0 166.3 L265.4 166.6 L265.8 166.9 L266.2 167.1 L266.6 167.4 L267.0 167.6 L267.4 167.9 L267.8 168.1 L268.2 168.4 L268.6 168.6 L269.0 168.8 L269.4 169.0 L269.8 169.2 L270.2 169.4 L270.6 169.5 L271.0 169.7 L271.4 169.9 L271.8 170.0 L272.2 170.2 L272.6 170.3 L273.0 170.4 L273.4 170.5 L273.8 170.6 L274.2 170.7 L274.6 170.8 L275.0 170.9 L275.4 171.0 L275.8 171.1 L276.2 171.1 L276.6 171.2 L277.0 171.2 L277.4 171.2 L277.8 171.2 L278.2 171.3 L278.6 171.3 L279.0 171.3 L279.4 171.2 L279.8 171.2 L280.2 171.2 L280.6 171.2 L281.0 171.1 L281.4 171.1 L281.8 171.0 L282.2 170.9 L282.6 170.9 L283.0 170.8 L283.4 170.7 L283.8 170.6 L284.2 170.5 L284.6 170.3 L285.0 170.2 L285.4 170.1 L285.8 169.9 L286.2 169.8 L286.6 169.6 L287.0 169.5 L287.4 169.3 L287.8 169.1 L288.2 168.9 L288.6 168.8 L289.0 168.6 L289.4 168.3 L289.8 168.1 L290.2 167.9 L290.6 167.7 L291.0 167.5 L291.4 167.2 L291.8 167.0 L292.2 166.7 L292.6 166.4 L293.0 166.2 L293.4 165.9 L293.8 165.6 L294.2 165.3 L294.6 165.0 L295.0 164.8 L295.4 164.4 L295.8 164.1 L296.2 163.8 L296.6 163.5 L297.0 163.2 L297.4 162.8 L297.8 162.5 L298.2 162.1 L298.6 161.8 L299.0 161.4 L299.4 161.1 L299.8 160.7 L300.2 160.3 L300.6 160.0 L301.0 159.6 L301.4 159.2 L301.8 158.8 L302.2 158.4 L302.6 158.0 L303.0 157.6 L303.4 157.2 L303.8 156.8 L304.2 156.3 L304.6 155.9 L305.0 155.5 L305.4 155.1 L305.8 154.6 L306.2 154.2 L306.6 153.7 L307.0 153.3 L307.4 152.8 L307.8 152.4 L308.2 151.9 L308.6 151.4 L309.0 151.0 L309.4 150.5 L309.8 150.0 L310.2 149.5 L310.6 149.0 L311.0 148.5 L311.4 148.1 L311.8 147.6 L312.2 147.1 L312.6 146.6 L313.0 146.1 L313.4 145.5 L313.8 145.0 L314.2 144.5 L314.6 144.0 L315.0 143.5 L315.4 143.0 L315.8 142.4 L316.2 141.9 L316.6 141.4 L317.0 140.8 L317.4 140.3 L317.8 139.8 L318.2 139.2 L318.6 138.7 L319.0 138.1 L319.4 137.6 L319.8 137.0 L320.2 136.5 L320.6 135.9 L321.0 135.4 L321.4 134.8 L321.8 134.3 L322.2 133.7 L322.6 133.2 L323.0 132.6 L323.4 132.0 L323.8 131.5 L324.2 130.9 L324.6 130.3 L325.0 129.8 L325.4 129.2 L325.8 128.6 L326.2 128.1 L326.6 127.5 L327.0 126.9 L327.4 126.3 L327.8 125.8 L328.2 125.2 L328.6 124.6 L329.0 124.0 L329.4 123.5 L329.8 122.9 L330.2 122.3 L330.6 121.7 L331.0 121.1 L331.4 120.6 L331.8 120.0 L332.2 119.4 L332.6 118.8 L333.0 118.2 L333.4 117.7 L333.8 117.1 L334.2 116.5 L334.6 115.9 L335.0 115.3 L335.4 114.8 L335.8 114.2 L336.2 113.6 L336.6 113.0 L337.0 112.5 L337.4 111.9 L337.8 111.3 L338.2 110.7 L338.6 110.2 L339.0 109.6 L339.4 109.0 L339.8 108.4 L340.2 107.9 L340.6 107.3 L341.0 106.7 L341.4 106.2 L341.8 105.6 L342.2 105.1 L342.6 104.5 L343.0 103.9 L343.4 103.4 L343.8 102.8 L344.2 102.3 L344.6 101.7 L345.0 101.2 L345.4 100.6 L345.8 100.1 L346.2 99.5 L346.6 99.0 L347.0 98.4 L347.4 97.9 L347.8 97.4 L348.2 96.8 L348.6 96.3 L349.0 95.8 L349.4 95.2 L349.8 94.7 L350.2 94.2 L350.6 93.7 L351.0 93.1 L351.4 92.6 L351.8 92.1 L352.2 91.6 L352.6 91.1 L353.0 90.6 L353.4 90.1 L353.8 89.6 L354.2 89.1 L354.6 88.6 L355.0 88.1 L355.4 87.7 L355.8 87.2 L356.2 86.7 L356.6 86.2 L357.0 85.8 L357.4 85.3 L357.8 84.8 L358.2 84.4 L358.6 83.9 L359.0 83.5 L359.4 83.0 L359.8 82.6 L360.2 82.1 L360.6 81.7 L361.0 81.3 L361.4 80.8 L361.8 80.4 L362.2 80.0 L362.6 79.6 L363.0 79.2 L363.4 78.8 L363.8 78.4 L364.2 78.0 L364.6 77.6 L365.0 77.2 L365.4 76.9 L365.8 76.5 L366.2 76.1 L366.6 75.7 L367.0 75.4 L367.4 75.0 L367.8 74.7 L368.2 74.4 L368.6 74.0 L369.0 73.7 L369.4 73.4 L369.8 73.1 L370.2 72.7 L370.6 72.4 L371.0 72.1 L371.4 71.8 L371.8 71.6 L372.2 71.3 L372.6 71.0 L373.0 70.7 L373.4 70.5 L373.8 70.2 L374.2 70.0 L374.6 69.7 L375.0 69.5 L375.4 69.3 L375.8 69.0 L376.2 68.8 L376.6 68.6 L377.0 68.4 L377.4 68.2 L377.8 68.1 L378.2 67.9 L378.6 67.7 L379.0 67.5 L379.4 67.4 L379.8 67.2 L380.2 67.1 L380.6 67.0 L381.0 66.9 L381.4 66.7 L381.8 66.6 L382.2 66.5 L382.6 66.4 L383.0 66.4 L383.4 66.3 L383.8 66.2 L384.2 66.2 L384.6 66.1 L385.0 66.1 L385.4 66.0 L385.8 66.0 L386.2 66.0" fill="none" stroke="#0000ff" stroke-width="2.4" stroke-dasharray="4.8 4.1"/>
<path d="M91.0 66.0 L91.4 66.0 L91.8 66.0 L92.2 65.9 L92.6 65.9 L93.0 65.9 L93.4 65.8 L93.8 65.8 L94.2 65.8 L94.6 65.7 L95.0 65.7 L95.4 65.6 L95.8 65.6 L96.2 65.5 L96.6 65.5 L97.0 65.4 L97.4 65.4 L97.8 65.3 L98.2 65.3 L98.6 65.2 L99.0 65.1 L99.4 65.1 L99.8 65.0 L100.2 65.0 L100.6 64.9 L101.0 64.8 L101.4 64.7 L101.8 64.7 L102.2 64.6 L102.6 64.5 L103.0 64.5 L103.4 64.4 L103.8 64.3 L104.2 64.2 L104.6 64.1 L105.0 64.0 L105.4 64.0 L105.8 63.9 L106.2 63.8 L106.6 63.7 L107.0 63.6 L107.4 63.5 L107.8 63.4 L108.2 63.3 L108.6 63.2 L109.0 63.1 L109.4 63.0 L109.8 62.9 L110.2 62.8 L110.6 62.7 L111.0 62.6 L111.4 62.5 L111.8 62.4 L112.2 62.3 L112.6 62.2 L113.0 62.1 L113.4 62.0 L113.8 61.9 L114.2 61.8 L114.6 61.7 L115.0 61.6 L115.4 61.4 L115.8 61.3 L116.2 61.2 L116.6 61.1 L117.0 61.0 L117.4 60.9 L117.8 60.8 L118.2 60.6 L118.6 60.5 L119.0 60.4 L119.4 60.3 L119.8 60.2 L120.2 60.0 L120.6 59.9 L121.0 59.8 L121.4 59.7 L121.8 59.6 L122.2 59.4 L122.6 59.3 L123.0 59.2 L123.4 59.1 L123.8 58.9 L124.2 58.8 L124.6 58.7 L125.0 58.6 L125.4 58.4 L125.8 58.3 L126.2 58.2 L126.6 58.0 L127.0 57.9 L127.4 57.8 L127.8 57.7 L128.2 57.5 L128.6 57.4 L129.0 57.3 L129.4 57.2 L129.8 57.0 L130.2 56.9 L130.6 56.8 L131.0 56.6 L131.4 56.5 L131.8 56.4 L132.2 56.3 L132.6 56.1 L133.0 56.0 L133.4 55.9 L133.8 55.7 L134.2 55.6 L134.6 55.5 L135.0 55.4 L135.4 55.2 L135.8 55.1 L136.2 55.0 L136.6 54.9 L137.0 54.7 L137.4 54.6 L137.8 54.5 L138.2 54.4 L138.6 54.2 L139.0 54.1 L139.4 54.0 L139.8 53.9 L140.2 53.7 L140.6 53.6 L141.0 53.5 L141.4 53.4 L141.8 53.3 L142.2 53.1 L142.6 53.0 L143.0 52.9 L143.4 52.8 L143.8 52.7 L144.2 52.6 L144.6 52.4 L145.0 52.3 L145.4 52.2 L145.8 52.1 L146.2 52.0 L146.6 51.9 L147.0 51.8 L147.4 51.7 L147.8 51.6 L148.2 51.4 L148.6 51.3 L149.0 51.2 L149.4 51.1 L149.8 51.0 L150.2 50.9 L150.6 50.8 L151.0 50.7 L151.4 50.6 L151.8 50.6 L152.2 50.5 L152.6 50.4 L153.0 50.3 L153.4 50.2 L153.8 50.1 L154.2 50.0 L154.6 49.9 L155.0 49.8 L155.4 49.8 L155.8 49.7 L156.2 49.6 L156.6 49.5 L157.0 49.5 L157.4 49.4 L157.8 49.3 L158.2 49.3 L158.6 49.2 L159.0 49.1 L159.4 49.1 L159.8 49.0 L160.2 48.9 L160.6 48.9 L161.0 48.8 L161.4 48.8 L161.8 48.7 L162.2 48.7 L162.6 48.6 L163.0 48.6 L163.4 48.6 L163.8 48.5 L164.2 48.5 L164.6 48.4 L165.0 48.4 L165.4 48.4 L165.8 48.4 L166.2 48.3 L166.6 48.3 L167.0 48.3 L167.4 48.3 L167.8 48.3 L168.2 48.2 L168.6 48.2 L169.0 48.2 L169.4 48.2 L169.8 48.2 L170.2 48.2 L170.6 48.2 L171.0 48.2 L171.4 48.2 L171.8 48.3 L172.2 48.3 L172.6 48.3 L173.0 48.3 L173.4 48.3 L173.8 48.4 L174.2 48.4 L174.6 48.4 L175.0 48.5 L175.4 48.5 L175.8 48.5 L176.2 48.6 L176.6 48.6 L177.0 48.7 L177.4 48.7 L177.8 48.8 L178.2 48.8 L178.6 48.9 L179.0 49.0 L179.4 49.0 L179.8 49.1 L180.2 49.2 L180.6 49.2 L181.0 49.3 L181.4 49.4 L181.8 49.5 L182.2 49.6 L182.6 49.7 L183.0 49.8 L183.4 49.9 L183.8 50.0 L184.2 50.1 L184.6 50.2 L185.0 50.3 L185.4 50.4 L185.8 50.5 L186.2 50.6 L186.6 50.8 L187.0 50.9 L187.4 51.0 L187.8 51.1 L188.2 51.3 L188.6 51.4 L189.0 51.6 L189.4 51.7 L189.8 51.9 L190.2 52.0 L190.6 52.2 L191.0 52.4 L191.4 52.5 L191.8 52.7 L192.2 52.9 L192.6 53.1 L193.0 53.3 L193.4 53.4 L193.8 53.6 L194.2 53.8 L194.6 54.0 L195.0 54.3 L195.4 54.5 L195.8 54.7 L196.2 54.9 L196.6 55.1 L197.0 55.4 L197.4 55.6 L197.8 55.9 L198.2 56.1 L198.6 56.4 L199.0 56.6 L199.4 56.9 L199.8 57.2 L200.2 57.5 L200.6 57.7 L201.0 58.0 L201.4 58.3 L201.8 58.6 L202.2 58.9 L202.6 59.2 L203.0 59.5 L203.4 59.9 L203.8 60.2 L204.2 60.5 L204.6 60.8 L205.0 61.2 L205.4 61.5 L205.8 61.9 L206.2 62.2 L206.6 62.6 L207.0 62.9 L207.4 63.3 L207.8 63.7 L208.2 64.0 L208.6 64.4 L209.0 64.8 L209.4 65.2 L209.8 65.6 L210.2 66.0 L210.6 66.5 L211.0 66.9 L211.4 67.3 L211.8 67.8 L212.2 68.2 L212.6 68.7 L213.0 69.1 L213.4 69.6 L213.8 70.1 L214.2 70.6 L214.6 71.0 L215.0 71.5 L215.4 72.1 L215.8 72.6 L216.2 73.1 L216.6 73.6 L217.0 74.1 L217.4 74.7 L217.8 75.2 L218.2 75.7 L218.6 76.3 L219.0 76.9 L219.4 77.4 L219.8 78.0 L220.2 78.6 L220.6 79.2 L221.0 79.8 L221.4 80.4 L221.8 81.0 L222.2 81.6 L222.6 82.2 L223.0 82.8 L223.4 83.5 L223.8 84.1 L224.2 84.8 L224.6 85.5 L225.0 86.2 L225.4 86.9 L225.8 87.6 L226.2 88.4 L226.6 89.1 L227.0 89.9 L227.4 90.7 L227.8 91.5 L228.2 92.3 L228.6 93.2 L229.0 94.0 L229.4 94.9 L229.8 95.8 L230.2 96.7 L230.6 97.6 L231.0 98.5 L231.4 99.5 L231.8 100.5 L232.2 101.4 L232.6 102.4 L233.0 103.4 L233.4 104.4 L233.8 105.5 L234.2 106.5 L234.6 107.5 L235.0 108.6 L235.4 109.7 L235.8 110.7 L236.2 111.8 L236.6 112.9 L237.0 114.0 L237.4 115.1 L237.8 116.2 L238.2 117.3 L238.6 118.4 L239.0 119.5 L239.4 120.6 L239.8 121.8 L240.2 122.9 L240.6 124.0 L241.0 125.1 L241.4 126.3 L241.8 127.4 L242.2 128.5 L242.6 129.7 L243.0 130.8 L243.4 131.9 L243.8 133.1 L244.2 134.2 L244.6 135.3 L245.0 136.4 L245.4 137.5 L245.8 138.6 L246.2 139.8 L246.6 140.9 L247.0 142.0 L247.4 143.0 L247.8 144.1 L248.2 145.2 L248.6 146.3 L249.0 147.4 L249.4 148.5 L249.8 149.5 L250.2 150.6 L250.6 151.6 L251.0 152.7 L251.4 153.8 L251.8 154.8 L252.2 155.8 L252.6 156.9 L253.0 157.9 L253.4 159.0 L253.8 160.0 L254.2 161.0 L254.6 162.0 L255.0 163.0 L255.4 164.0 L255.8 165.1 L256.2 166.1 L256.6 167.0 L257.0 168.0 L257.4 169.0 L257.8 170.0 L258.2 171.0 L258.6 172.0" fill="none" stroke="#0000ff" stroke-width="2.4"/>
<path d="M217.8 62.5 L218.2 64.2 L218.6 65.9 L219.0 67.3 L219.4 68.7 L219.8 69.9 L220.2 71.1 L220.6 72.1 L221.0 73.1 L221.4 73.9 L221.8 74.8 L222.2 75.5 L222.6 76.3 L223.0 77.0 L223.4 77.7 L223.8 78.4 L224.2 79.0 L224.6 79.8 L225.0 80.5 L225.4 81.3 L225.8 82.1 L226.2 83.0 L226.6 83.9 L227.0 84.8 L227.4 85.8 L227.8 86.8 L228.2 87.8 L228.6 88.9 L229.0 89.9 L229.4 91.0 L229.8 92.2 L230.2 93.3 L230.6 94.5 L231.0 95.7 L231.4 96.9 L231.8 98.1 L232.2 99.4 L232.6 100.6 L233.0 101.9 L233.4 103.2 L233.8 104.4 L234.2 105.7 L234.6 107.0 L235.0 108.3 L235.4 109.6 L235.8 110.9 L236.2 112.2 L236.6 113.5 L237.0 114.8 L237.4 116.0 L237.8 117.3 L238.2 118.6 L238.6 119.8 L239.0 121.0 L239.4 122.3 L239.8 123.5 L240.2 124.6 L240.6 125.8 L241.0 126.9 L241.4 128.1 L241.8 129.2 L242.2 130.3 L242.6 131.3 L243.0 132.4 L243.4 133.4 L243.8 134.4 L244.2 135.4 L244.6 136.4 L245.0 137.4 L245.4 138.3 L245.8 139.2 L246.2 140.1 L246.6 141.0 L247.0 141.9 L247.4 142.8 L247.8 143.6 L248.2 144.4 L248.6 145.2 L249.0 146.0 L249.4 146.8 L249.8 147.6 L250.2 148.3 L250.6 149.0 L251.0 149.7 L251.4 150.4 L251.8 151.1 L252.2 151.8 L252.6 152.4 L253.0 153.0 L253.4 153.7 L253.8 154.3 L254.2 154.9 L254.6 155.4 L255.0 156.0 L255.4 156.5 L255.8 157.1 L256.2 157.6 L256.6 158.1 L257.0 158.6 L257.4 159.0 L257.8 159.5 L258.2 159.9 L258.6 160.4 L259.0 160.8 L259.4 161.2 L259.8 161.6 L260.2 161.9 L260.6 162.3 L261.0 162.7 L261.4 163.0 L261.8 163.3 L262.2 163.6 L262.6 163.9 L263.0 164.2 L263.4 164.5 L263.8 164.8 L264.2 165.0 L264.6 165.3 L265.0 165.5 L265.4 165.7 L265.8 165.9 L266.2 166.1 L266.6 166.3 L267.0 166.5 L267.4 166.7 L267.8 166.8 L268.2 167.0 L268.6 167.1 L269.0 167.2 L269.4 167.3 L269.8 167.5 L270.2 167.5 L270.6 167.6 L271.0 167.7 L271.4 167.8 L271.8 167.8 L272.2 167.9 L272.6 167.9 L273.0 168.0 L273.4 168.0 L273.8 168.0 L274.2 168.0 L274.6 168.0 L275.0 168.0 L275.4 168.0 L275.8 168.0 L276.2 167.9 L276.6 167.9 L277.0 167.9 L277.4 167.8 L277.8 167.8 L278.2 167.7 L278.6 167.6 L279.0 167.5 L279.4 167.4 L279.8 167.4 L280.2 167.3 L280.6 167.2 L281.0 167.0 L281.4 166.9 L281.8 166.8 L282.2 166.7 L282.6 166.5 L283.0 166.4 L283.4 166.3 L283.8 166.1 L284.2 166.0 L284.6 165.8 L285.0 165.6 L285.4 165.4 L285.8 165.3 L286.2 165.1 L286.6 164.9 L287.0 164.7 L287.4 164.5 L287.8 164.3 L288.2 164.1 L288.6 163.9 L289.0 163.6 L289.4 163.4 L289.8 163.2 L290.2 162.9 L290.6 162.7 L291.0 162.5 L291.4 162.2 L291.8 161.9 L292.2 161.7 L292.6 161.4 L293.0 161.1 L293.4 160.9 L293.8 160.6 L294.2 160.3 L294.6 160.0 L295.0 159.7 L295.4 159.4 L295.8 159.1 L296.2 158.8 L296.6 158.5 L297.0 158.2 L297.4 157.9 L297.8 157.5 L298.2 157.2 L298.6 156.9 L299.0 156.5 L299.4 156.2 L299.8 155.8 L300.2 155.5 L300.6 155.1 L301.0 154.8 L301.4 154.4 L301.8 154.0 L302.2 153.7 L302.6 153.3 L303.0 152.9 L303.4 152.5 L303.8 152.1 L304.2 151.7 L304.6 151.4 L305.0 151.0 L305.4 150.6 L305.8 150.2 L306.2 149.7 L306.6 149.3 L307.0 148.9 L307.4 148.5 L307.8 148.1 L308.2 147.7 L308.6 147.2 L309.0 146.8 L309.4 146.4 L309.8 145.9 L310.2 145.5 L310.6 145.0 L311.0 144.6 L311.4 144.1 L311.8 143.7 L312.2 143.2 L312.6 142.8 L313.0 142.3 L313.4 141.8 L313.8 141.4 L314.2 140.9 L314.6 140.4 L315.0 140.0 L315.4 139.5 L315.8 139.0 L316.2 138.5 L316.6 138.0 L317.0 137.6 L317.4 137.1 L317.8 136.6 L318.2 136.1 L318.6 135.6 L319.0 135.1 L319.4 134.6 L319.8 134.1 L320.2 133.6 L320.6 133.1 L321.0 132.6 L321.4 132.0 L321.8 131.5 L322.2 131.0 L322.6 130.5 L323.0 130.0 L323.4 129.5 L323.8 128.9 L324.2 128.4 L324.6 127.9 L325.0 127.4 L325.4 126.8 L325.8 126.3 L326.2 125.8 L326.6 125.2 L327.0 124.7 L327.4 124.2 L327.8 123.6 L328.2 123.1 L328.6 122.6 L329.0 122.0 L329.4 121.5 L329.8 121.0 L330.2 120.4 L330.6 119.9 L331.0 119.3 L331.4 118.8 L331.8 118.2 L332.2 117.7 L332.6 117.2 L333.0 116.6 L333.4 116.1 L333.8 115.5 L334.2 115.0 L334.6 114.4 L335.0 113.9 L335.4 113.3 L335.8 112.8 L336.2 112.2 L336.6 111.7 L337.0 111.1 L337.4 110.6 L337.8 110.1 L338.2 109.5 L338.6 109.0 L339.0 108.4 L339.4 107.9 L339.8 107.3 L340.2 106.8 L340.6 106.2 L341.0 105.7 L341.4 105.2 L341.8 104.6 L342.2 104.1 L342.6 103.5 L343.0 103.0 L343.4 102.5 L343.8 101.9 L344.2 101.4 L344.6 100.9 L345.0 100.3 L345.4 99.8 L345.8 99.3 L346.2 98.7 L346.6 98.2 L347.0 97.7 L347.4 97.1 L347.8 96.6 L348.2 96.1 L348.6 95.6 L349.0 95.1 L349.4 94.5 L349.8 94.0 L350.2 93.5 L350.6 93.0 L351.0 92.5 L351.4 92.0 L351.8 91.5 L352.2 91.0 L352.6 90.5 L353.0 90.0 L353.4 89.5 L353.8 89.0 L354.2 88.5 L354.6 88.0 L355.0 87.5 L355.4 87.0 L355.8 86.5 L356.2 86.1 L356.6 85.6 L357.0 85.1 L357.4 84.6 L357.8 84.2 L358.2 83.7 L358.6 83.2 L359.0 82.8 L359.4 82.3 L359.8 81.9 L360.2 81.4 L360.6 81.0 L361.0 80.5 L361.4 80.1 L361.8 79.7 L362.2 79.2 L362.6 78.8 L363.0 78.4 L363.4 78.0 L363.8 77.6 L364.2 77.2 L364.6 76.8 L365.0 76.4 L365.4 76.0 L365.8 75.6 L366.2 75.2 L366.6 74.8 L367.0 74.5 L367.4 74.1 L367.8 73.8 L368.2 73.4 L368.6 73.1 L369.0 72.7 L369.4 72.4 L369.8 72.1 L370.2 71.8 L370.6 71.5 L371.0 71.1 L371.4 70.9 L371.8 70.6 L372.2 70.3 L372.6 70.0 L373.0 69.7 L373.4 69.5 L373.8 69.2 L374.2 69.0 L374.6 68.8 L375.0 68.5 L375.4 68.3 L375.8 68.1 L376.2 67.9 L376.6 67.7 L377.0 67.5 L377.4 67.3 L377.8 67.2 L378.2 67.0 L378.6 66.9 L379.0 66.7 L379.4 66.6 L379.8 66.5 L380.2 66.4 L380.6 66.3 L381.0 66.2 L381.4 66.1 L381.8 66.0 L382.2 66.0 L382.6 65.9 L383.0 65.9 L383.4 65.9 L383.8 65.8 L384.2 65.8 L384.6 65.8 L385.0 65.9 L385.4 65.9 L385.8 65.9 L386.2 66.0" fill="none" stroke="#0000ff" stroke-width="2.4"/>
<path d="M91.0 66.0 L91.4 66.0 L91.8 65.9 L92.2 65.9 L92.6 65.8 L93.0 65.8 L93.4 65.7 L93.8 65.6 L94.2 65.6 L94.6 65.5 L95.0 65.4 L95.4 65.4 L95.8 65.3 L96.2 65.2 L96.6 65.1 L97.0 65.0 L97.4 64.9 L97.8 64.9 L98.2 64.8 L98.6 64.7 L99.0 64.6 L99.4 64.4 L99.8 64.3 L100.2 64.2 L100.6 64.1 L101.0 64.0 L101.4 63.9 L101.8 63.8 L102.2 63.6 L102.6 63.5 L103.0 63.4 L103.4 63.2 L103.8 63.1 L104.2 63.0 L104.6 62.8 L105.0 62.7 L105.4 62.5 L105.8 62.4 L106.2 62.2 L106.6 62.1 L107.0 61.9 L107.4 61.8 L107.8 61.6 L108.2 61.5 L108.6 61.3 L109.0 61.1 L109.4 61.0 L109.8 60.8 L110.2 60.6 L110.6 60.5 L111.0 60.3 L111.4 60.1 L111.8 59.9 L112.2 59.8 L112.6 59.6 L113.0 59.4 L113.4 59.2 L113.8 59.0 L114.2 58.9 L114.6 58.7 L115.0 58.5 L115.4 58.3 L115.8 58.1 L116.2 57.9 L116.6 57.7 L117.0 57.5 L117.4 57.3 L117.8 57.1 L118.2 56.9 L118.6 56.7 L119.0 56.5 L119.4 56.3 L119.8 56.1 L120.2 55.9 L120.6 55.7 L121.0 55.5 L121.4 55.3 L121.8 55.1 L122.2 54.9 L122.6 54.7 L123.0 54.4 L123.4 54.2 L123.8 54.0 L124.2 53.8 L124.6 53.6 L125.0 53.4 L125.4 53.2 L125.8 52.9 L126.2 52.7 L126.6 52.5 L127.0 52.3 L127.4 52.1 L127.8 51.9 L128.2 51.7 L128.6 51.4 L129.0 51.2 L129.4 51.0 L129.8 50.8 L130.2 50.6 L130.6 50.4 L131.0 50.1 L131.4 49.9 L131.8 49.7 L132.2 49.5 L132.6 49.3 L133.0 49.1 L133.4 48.8 L133.8 48.6 L134.2 48.4 L134.6 48.2 L135.0 48.0 L135.4 47.8 L135.8 47.5 L136.2 47.3 L136.6 47.1 L137.0 46.9 L137.4 46.7 L137.8 46.5 L138.2 46.3 L138.6 46.1 L139.0 45.8 L139.4 45.6 L139.8 45.4 L140.2 45.2 L140.6 45.0 L141.0 44.8 L141.4 44.6 L141.8 44.4 L142.2 44.2 L142.6 44.0 L143.0 43.8 L143.4 43.6 L143.8 43.4 L144.2 43.2 L144.6 43.0 L145.0 42.8 L145.4 42.6 L145.8 42.4 L146.2 42.3 L146.6 42.1 L147.0 41.9 L147.4 41.7 L147.8 41.5 L148.2 41.3 L148.6 41.2 L149.0 41.0 L149.4 40.8 L149.8 40.6 L150.2 40.5 L150.6 40.3 L151.0 40.1 L151.4 40.0 L151.8 39.8 L152.2 39.7 L152.6 39.5 L153.0 39.3 L153.4 39.2 L153.8 39.1 L154.2 38.9 L154.6 38.8 L155.0 38.6 L155.4 38.5 L155.8 38.4 L156.2 38.2 L156.6 38.1 L157.0 38.0 L157.4 37.8 L157.8 37.7 L158.2 37.6 L158.6 37.5 L159.0 37.4 L159.4 37.3 L159.8 37.2 L160.2 37.1 L160.6 37.0 L161.0 36.9 L161.4 36.8 L161.8 36.7 L162.2 36.6 L162.6 36.6 L163.0 36.5 L163.4 36.4 L163.8 36.4 L164.2 36.3 L164.6 36.2 L165.0 36.2 L165.4 36.1 L165.8 36.1 L166.2 36.1 L166.6 36.0 L167.0 36.0 L167.4 36.0 L167.8 35.9 L168.2 35.9 L168.6 35.9 L169.0 35.9 L169.4 35.9 L169.8 35.9 L170.2 35.9 L170.6 35.9 L171.0 35.9 L171.4 35.9 L171.8 35.9 L172.2 36.0 L172.6 36.0 L173.0 36.0 L173.4 36.1 L173.8 36.1 L174.2 36.2 L174.6 36.2 L175.0 36.3 L175.4 36.3 L175.8 36.4 L176.2 36.5 L176.6 36.5 L177.0 36.6 L177.4 36.7 L177.8 36.8 L178.2 36.9 L178.6 37.0 L179.0 37.1 L179.4 37.2 L179.8 37.3 L180.2 37.5 L180.6 37.6 L181.0 37.7 L181.4 37.9 L181.8 38.0 L182.2 38.2 L182.6 38.3 L183.0 38.5 L183.4 38.6 L183.8 38.8 L184.2 39.0 L184.6 39.2 L185.0 39.4 L185.4 39.6 L185.8 39.7 L186.2 40.0 L186.6 40.2 L187.0 40.4 L187.4 40.6 L187.8 40.8 L188.2 41.1 L188.6 41.3 L189.0 41.5 L189.4 41.8 L189.8 42.1 L190.2 42.3 L190.6 42.6 L191.0 42.9 L191.4 43.2 L191.8 43.5 L192.2 43.8 L192.6 44.1 L193.0 44.4 L193.4 44.7 L193.8 45.1 L194.2 45.4 L194.6 45.7 L195.0 46.1 L195.4 46.5 L195.8 46.8 L196.2 47.2 L196.6 47.6 L197.0 48.0 L197.4 48.4 L197.8 48.8 L198.2 49.2 L198.6 49.7 L199.0 50.1 L199.4 50.6 L199.8 51.0 L200.2 51.5 L200.6 52.0 L201.0 52.5 L201.4 53.0 L201.8 53.5 L202.2 54.0 L202.6 54.5 L203.0 55.1 L203.4 55.6 L203.8 56.2 L204.2 56.7 L204.6 57.3 L205.0 57.9 L205.4 58.4 L205.8 59.0 L206.2 59.6 L206.6 60.2 L207.0 60.9 L207.4 61.5 L207.8 62.1 L208.2 62.8 L208.6 63.4 L209.0 64.1 L209.4 64.7 L209.8 65.4 L210.2 66.1 L210.6 66.7 L211.0 67.4 L211.4 68.1 L211.8 68.8 L212.2 69.5 L212.6 70.2 L213.0 70.9 L213.4 71.7 L213.8 72.4 L214.2 73.1 L214.6 73.9 L215.0 74.6 L215.4 75.4 L215.8 76.1 L216.2 76.9 L216.6 77.7 L217.0 78.4 L217.4 79.2 L217.8 80.0 L218.2 80.8 L218.6 81.6 L219.0 82.4 L219.4 83.2 L219.8 84.1 L220.2 84.9 L220.6 85.8 L221.0 86.7 L221.4 87.5 L221.8 88.4 L222.2 89.4 L222.6 90.3 L223.0 91.2 L223.4 92.2 L223.8 93.2 L224.2 94.2 L224.6 95.2 L225.0 96.3 L225.4 97.3 L225.8 98.4 L226.2 99.5 L226.6 100.7 L227.0 101.8 L227.4 103.0 L227.8 104.2 L228.2 105.5 L228.6 106.7 L229.0 108.0 L229.4 109.3 L229.8 110.7 L230.2 112.0 L230.6 113.4 L231.0 114.8 L231.4 116.2 L231.8 117.7 L232.2 119.2 L232.6 120.6 L233.0 122.1 L233.4 123.7 L233.8 125.2 L234.2 126.7 L234.6 128.3 L235.0 129.9 L235.4 131.5 L235.8 133.1 L236.2 134.7 L236.6 136.3 L237.0 138.0 L237.4 139.6 L237.8 141.3 L238.2 142.9 L238.6 144.6 L239.0 146.3 L239.4 148.0 L239.8 149.6 L240.2 151.3 L240.6 153.0 L241.0 154.7 L241.4 156.4 L241.8 158.1 L242.2 159.8 L242.6 161.5 L243.0 163.2 L243.4 164.9 L243.8 166.6 L244.2 168.3 L244.6 170.0 L245.0 171.6 L245.4 173.3 L245.8 175.0 L246.2 176.6 L246.6 178.3 L247.0 179.9 L247.4 181.6 L247.8 183.2 L248.2 184.8 L248.6 186.5 L249.0 188.1 L249.4 189.7 L249.8 191.3 L250.2 192.9 L250.6 194.5 L251.0 196.1 L251.4 197.6 L251.8 199.2 L252.2 200.8 L252.6 202.3 L253.0 203.9 L253.4 205.4 L253.8 207.0 L254.2 208.5 L254.6 210.0 L255.0 211.6 L255.4 213.1 L255.8 214.6 L256.2 216.1 L256.6 217.6 L257.0 219.1 L257.4 220.5 L257.8 222.0 L258.2 223.5 L258.6 225.0" fill="none" stroke="#bf8040" stroke-width="2.4" stroke-dasharray="4.8 4.1"/>
<path d="M217.8 60.4 L218.2 62.6 L218.6 64.6 L219.0 66.5 L219.4 68.4 L219.8 70.1 L220.2 71.8 L220.6 73.4 L221.0 74.9 L221.4 76.5 L221.8 78.0 L222.2 79.5 L222.6 81.1 L223.0 82.6 L223.4 84.1 L223.8 85.5 L224.2 87.0 L224.6 88.5 L225.0 90.0 L225.4 91.5 L225.8 93.0 L226.2 94.5 L226.6 96.0 L227.0 97.5 L227.4 99.0 L227.8 100.5 L228.2 102.1 L228.6 103.6 L229.0 105.2 L229.4 106.7 L229.8 108.3 L230.2 109.9 L230.6 111.5 L231.0 113.0 L231.4 114.6 L231.8 116.2 L232.2 117.9 L232.6 119.5 L233.0 121.1 L233.4 122.7 L233.8 124.4 L234.2 126.0 L234.6 127.7 L235.0 129.3 L235.4 131.0 L235.8 132.7 L236.2 134.4 L236.6 136.0 L237.0 137.7 L237.4 139.4 L237.8 141.1 L238.2 142.8 L238.6 144.5 L239.0 146.2 L239.4 147.9 L239.8 149.6 L240.2 151.3 L240.6 153.1 L241.0 154.8 L241.4 156.5 L241.8 158.2 L242.2 159.9 L242.6 161.6 L243.0 163.3 L243.4 165.0 L243.8 166.7 L244.2 168.4 L244.6 170.2 L245.0 171.8 L245.4 173.5 L245.8 175.2 L246.2 176.8 L246.6 178.4 L247.0 180.0 L247.4 181.6 L247.8 183.1 L248.2 184.5 L248.6 185.9 L249.0 187.3 L249.4 188.6 L249.8 189.9 L250.2 191.0 L250.6 192.1 L251.0 193.2 L251.4 194.2 L251.8 195.1 L252.2 196.0 L252.6 196.9 L253.0 197.7 L253.4 198.5 L253.8 199.3 L254.2 200.0 L254.6 200.8 L255.0 201.5 L255.4 202.2 L255.8 202.9 L256.2 203.6 L256.6 204.3 L257.0 205.0 L257.4 205.7 L257.8 206.3 L258.2 207.0 L258.6 207.6 L259.0 208.3 L259.4 208.9 L259.8 209.5 L260.2 210.1 L260.6 210.7 L261.0 211.3 L261.4 211.9 L261.8 212.4 L262.2 213.0 L262.6 213.5 L263.0 214.0 L263.4 214.5 L263.8 215.0 L264.2 215.5 L264.6 216.0 L265.0 216.4 L265.4 216.9 L265.8 217.3 L266.2 217.7 L266.6 218.1 L267.0 218.5 L267.4 218.8 L267.8 219.2 L268.2 219.5 L268.6 219.9 L269.0 220.2 L269.4 220.5 L269.8 220.8 L270.2 221.1 L270.6 221.3 L271.0 221.6 L271.4 221.8 L271.8 222.0 L272.2 222.2 L272.6 222.4 L273.0 222.6 L273.4 222.8 L273.8 223.0 L274.2 223.1 L274.6 223.2 L275.0 223.4 L275.4 223.5 L275.8 223.6 L276.2 223.7 L276.6 223.7 L277.0 223.8 L277.4 223.8 L277.8 223.9 L278.2 223.9 L278.6 223.9 L279.0 223.9 L279.4 223.9 L279.8 223.8 L280.2 223.8 L280.6 223.7 L281.0 223.7 L281.4 223.6 L281.8 223.5 L282.2 223.4 L282.6 223.3 L283.0 223.2 L283.4 223.0 L283.8 222.9 L284.2 222.7 L284.6 222.5 L285.0 222.3 L285.4 222.1 L285.8 221.9 L286.2 221.7 L286.6 221.5 L287.0 221.2 L287.4 221.0 L287.8 220.7 L288.2 220.4 L288.6 220.1 L289.0 219.8 L289.4 219.5 L289.8 219.2 L290.2 218.9 L290.6 218.5 L291.0 218.2 L291.4 217.8 L291.8 217.4 L292.2 217.1 L292.6 216.7 L293.0 216.3 L293.4 215.9 L293.8 215.4 L294.2 215.0 L294.6 214.6 L295.0 214.1 L295.4 213.7 L295.8 213.2 L296.2 212.7 L296.6 212.2 L297.0 211.8 L297.4 211.3 L297.8 210.7 L298.2 210.2 L298.6 209.7 L299.0 209.2 L299.4 208.6 L299.8 208.1 L300.2 207.5 L300.6 206.9 L301.0 206.4 L301.4 205.8 L301.8 205.2 L302.2 204.6 L302.6 204.0 L303.0 203.4 L303.4 202.8 L303.8 202.2 L304.2 201.5 L304.6 200.9 L305.0 200.2 L305.4 199.6 L305.8 198.9 L306.2 198.3 L306.6 197.6 L307.0 196.9 L307.4 196.2 L307.8 195.5 L308.2 194.8 L308.6 194.1 L309.0 193.4 L309.4 192.7 L309.8 192.0 L310.2 191.3 L310.6 190.6 L311.0 189.8 L311.4 189.1 L311.8 188.3 L312.2 187.6 L312.6 186.8 L313.0 186.1 L313.4 185.3 L313.8 184.6 L314.2 183.8 L314.6 183.0 L315.0 182.2 L315.4 181.4 L315.8 180.7 L316.2 179.9 L316.6 179.1 L317.0 178.3 L317.4 177.5 L317.8 176.7 L318.2 175.8 L318.6 175.0 L319.0 174.2 L319.4 173.4 L319.8 172.6 L320.2 171.7 L320.6 170.9 L321.0 170.1 L321.4 169.3 L321.8 168.4 L322.2 167.6 L322.6 166.7 L323.0 165.9 L323.4 165.1 L323.8 164.2 L324.2 163.4 L324.6 162.5 L325.0 161.7 L325.4 160.8 L325.8 159.9 L326.2 159.1 L326.6 158.2 L327.0 157.4 L327.4 156.5 L327.8 155.6 L328.2 154.8 L328.6 153.9 L329.0 153.0 L329.4 152.2 L329.8 151.3 L330.2 150.4 L330.6 149.6 L331.0 148.7 L331.4 147.8 L331.8 147.0 L332.2 146.1 L332.6 145.2 L333.0 144.4 L333.4 143.5 L333.8 142.6 L334.2 141.8 L334.6 140.9 L335.0 140.0 L335.4 139.1 L335.8 138.3 L336.2 137.4 L336.6 136.6 L337.0 135.7 L337.4 134.8 L337.8 134.0 L338.2 133.1 L338.6 132.2 L339.0 131.4 L339.4 130.5 L339.8 129.7 L340.2 128.8 L340.6 128.0 L341.0 127.1 L341.4 126.3 L341.8 125.4 L342.2 124.6 L342.6 123.7 L343.0 122.9 L343.4 122.1 L343.8 121.2 L344.2 120.4 L344.6 119.6 L345.0 118.7 L345.4 117.9 L345.8 117.1 L346.2 116.3 L346.6 115.5 L347.0 114.6 L347.4 113.8 L347.8 113.0 L348.2 112.2 L348.6 111.4 L349.0 110.6 L349.4 109.8 L349.8 109.1 L350.2 108.3 L350.6 107.5 L351.0 106.7 L351.4 105.9 L351.8 105.2 L352.2 104.4 L352.6 103.7 L353.0 102.9 L353.4 102.2 L353.8 101.4 L354.2 100.7 L354.6 99.9 L355.0 99.2 L355.4 98.5 L355.8 97.8 L356.2 97.0 L356.6 96.3 L357.0 95.6 L357.4 94.9 L357.8 94.2 L358.2 93.6 L358.6 92.9 L359.0 92.2 L359.4 91.5 L359.8 90.9 L360.2 90.2 L360.6 89.6 L361.0 88.9 L361.4 88.3 L361.8 87.6 L362.2 87.0 L362.6 86.4 L363.0 85.8 L363.4 85.2 L363.8 84.6 L364.2 84.0 L364.6 83.4 L365.0 82.8 L365.4 82.3 L365.8 81.7 L366.2 81.2 L366.6 80.6 L367.0 80.1 L367.4 79.6 L367.8 79.0 L368.2 78.5 L368.6 78.0 L369.0 77.5 L369.4 77.1 L369.8 76.6 L370.2 76.1 L370.6 75.7 L371.0 75.2 L371.4 74.8 L371.8 74.3 L372.2 73.9 L372.6 73.5 L373.0 73.1 L373.4 72.7 L373.8 72.3 L374.2 72.0 L374.6 71.6 L375.0 71.2 L375.4 70.9 L375.8 70.6 L376.2 70.3 L376.6 69.9 L377.0 69.6 L377.4 69.4 L377.8 69.1 L378.2 68.8 L378.6 68.6 L379.0 68.3 L379.4 68.1 L379.8 67.9 L380.2 67.7 L380.6 67.5 L381.0 67.3 L381.4 67.1 L381.8 66.9 L382.2 66.8 L382.6 66.7 L383.0 66.5 L383.4 66.4 L383.8 66.3 L384.2 66.2 L384.6 66.2 L385.0 66.1 L385.4 66.1 L385.8 66.0 L386.2 66.0" fill="none" stroke="#bf8040" stroke-width="2.4" stroke-dasharray="4.8 4.1"/>
<path d="M91.0 66.0 L91.4 66.0 L91.8 65.9 L92.2 65.9 L92.6 65.8 L93.0 65.8 L93.4 65.7 L93.8 65.7 L94.2 65.6 L94.6 65.6 L95.0 65.5 L95.4 65.5 L95.8 65.4 L96.2 65.3 L96.6 65.2 L97.0 65.2 L97.4 65.1 L97.8 65.0 L98.2 64.9 L98.6 64.8 L99.0 64.8 L99.4 64.7 L99.8 64.6 L100.2 64.5 L100.6 64.4 L101.0 64.3 L101.4 64.2 L101.8 64.1 L102.2 64.0 L102.6 63.9 L103.0 63.7 L103.4 63.6 L103.8 63.5 L104.2 63.4 L104.6 63.3 L105.0 63.2 L105.4 63.0 L105.8 62.9 L106.2 62.8 L106.6 62.6 L107.0 62.5 L107.4 62.4 L107.8 62.2 L108.2 62.1 L108.6 62.0 L109.0 61.8 L109.4 61.7 L109.8 61.5 L110.2 61.4 L110.6 61.3 L111.0 61.1 L111.4 61.0 L111.8 60.8 L112.2 60.6 L112.6 60.5 L113.0 60.3 L113.4 60.2 L113.8 60.0 L114.2 59.9 L114.6 59.7 L115.0 59.5 L115.4 59.4 L115.8 59.2 L116.2 59.0 L116.6 58.9 L117.0 58.7 L117.4 58.5 L117.8 58.4 L118.2 58.2 L118.6 58.0 L119.0 57.8 L119.4 57.7 L119.8 57.5 L120.2 57.3 L120.6 57.1 L121.0 57.0 L121.4 56.8 L121.8 56.6 L122.2 56.4 L122.6 56.3 L123.0 56.1 L123.4 55.9 L123.8 55.7 L124.2 55.5 L124.6 55.3 L125.0 55.2 L125.4 55.0 L125.8 54.8 L126.2 54.6 L126.6 54.4 L127.0 54.2 L127.4 54.0 L127.8 53.9 L128.2 53.7 L128.6 53.5 L129.0 53.3 L129.4 53.1 L129.8 52.9 L130.2 52.7 L130.6 52.6 L131.0 52.4 L131.4 52.2 L131.8 52.0 L132.2 51.8 L132.6 51.6 L133.0 51.4 L133.4 51.3 L133.8 51.1 L134.2 50.9 L134.6 50.7 L135.0 50.5 L135.4 50.3 L135.8 50.1 L136.2 50.0 L136.6 49.8 L137.0 49.6 L137.4 49.4 L137.8 49.2 L138.2 49.1 L138.6 48.9 L139.0 48.7 L139.4 48.5 L139.8 48.3 L140.2 48.2 L140.6 48.0 L141.0 47.8 L141.4 47.6 L141.8 47.5 L142.2 47.3 L142.6 47.1 L143.0 46.9 L143.4 46.8 L143.8 46.6 L144.2 46.4 L144.6 46.3 L145.0 46.1 L145.4 45.9 L145.8 45.8 L146.2 45.6 L146.6 45.4 L147.0 45.3 L147.4 45.1 L147.8 45.0 L148.2 44.8 L148.6 44.7 L149.0 44.5 L149.4 44.4 L149.8 44.2 L150.2 44.1 L150.6 43.9 L151.0 43.8 L151.4 43.6 L151.8 43.5 L152.2 43.4 L152.6 43.2 L153.0 43.1 L153.4 43.0 L153.8 42.9 L154.2 42.7 L154.6 42.6 L155.0 42.5 L155.4 42.4 L155.8 42.3 L156.2 42.1 L156.6 42.0 L157.0 41.9 L157.4 41.8 L157.8 41.7 L158.2 41.6 L158.6 41.5 L159.0 41.4 L159.4 41.3 L159.8 41.2 L160.2 41.2 L160.6 41.1 L161.0 41.0 L161.4 40.9 L161.8 40.9 L162.2 40.8 L162.6 40.7 L163.0 40.7 L163.4 40.6 L163.8 40.5 L164.2 40.5 L164.6 40.4 L165.0 40.4 L165.4 40.3 L165.8 40.3 L166.2 40.3 L166.6 40.2 L167.0 40.2 L167.4 40.2 L167.8 40.2 L168.2 40.2 L168.6 40.1 L169.0 40.1 L169.4 40.1 L169.8 40.1 L170.2 40.1 L170.6 40.1 L171.0 40.1 L171.4 40.2 L171.8 40.2 L172.2 40.2 L172.6 40.2 L173.0 40.3 L173.4 40.3 L173.8 40.3 L174.2 40.4 L174.6 40.4 L175.0 40.5 L175.4 40.5 L175.8 40.6 L176.2 40.6 L176.6 40.7 L177.0 40.8 L177.4 40.8 L177.8 40.9 L178.2 41.0 L178.6 41.1 L179.0 41.2 L179.4 41.3 L179.8 41.4 L180.2 41.5 L180.6 41.6 L181.0 41.7 L181.4 41.8 L181.8 42.0 L182.2 42.1 L182.6 42.2 L183.0 42.4 L183.4 42.5 L183.8 42.6 L184.2 42.8 L184.6 43.0 L185.0 43.1 L185.4 43.3 L185.8 43.5 L186.2 43.6 L186.6 43.8 L187.0 44.0 L187.4 44.2 L187.8 44.4 L188.2 44.6 L188.6 44.8 L189.0 45.0 L189.4 45.2 L189.8 45.4 L190.2 45.7 L190.6 45.9 L191.0 46.1 L191.4 46.4 L191.8 46.6 L192.2 46.9 L192.6 47.2 L193.0 47.4 L193.4 47.7 L193.8 48.0 L194.2 48.3 L194.6 48.6 L195.0 48.9 L195.4 49.2 L195.8 49.5 L196.2 49.9 L196.6 50.2 L197.0 50.5 L197.4 50.9 L197.8 51.2 L198.2 51.6 L198.6 52.0 L199.0 52.4 L199.4 52.8 L199.8 53.1 L200.2 53.6 L200.6 54.0 L201.0 54.4 L201.4 54.8 L201.8 55.2 L202.2 55.7 L202.6 56.1 L203.0 56.6 L203.4 57.1 L203.8 57.5 L204.2 58.0 L204.6 58.5 L205.0 59.0 L205.4 59.5 L205.8 60.0 L206.2 60.5 L206.6 61.0 L207.0 61.6 L207.4 62.1 L207.8 62.6 L208.2 63.2 L208.6 63.7 L209.0 64.3 L209.4 64.9 L209.8 65.5 L210.2 66.0 L210.6 66.6 L211.0 67.3 L211.4 67.9 L211.8 68.5 L212.2 69.1 L212.6 69.8 L213.0 70.4 L213.4 71.1 L213.8 71.7 L214.2 72.4 L214.6 73.1 L215.0 73.8 L215.4 74.5 L215.8 75.2 L216.2 75.9 L216.6 76.6 L217.0 77.3 L217.4 78.0 L217.8 78.8 L218.2 79.5 L218.6 80.3 L219.0 81.0 L219.4 81.8 L219.8 82.6 L220.2 83.4 L220.6 84.2 L221.0 85.0 L221.4 85.8 L221.8 86.6 L222.2 87.5 L222.6 88.4 L223.0 89.2 L223.4 90.1 L223.8 91.0 L224.2 92.0 L224.6 92.9 L225.0 93.9 L225.4 94.8 L225.8 95.8 L226.2 96.9 L226.6 97.9 L227.0 99.0 L227.4 100.1 L227.8 101.2 L228.2 102.3 L228.6 103.5 L229.0 104.7 L229.4 105.9 L229.8 107.1 L230.2 108.4 L230.6 109.6 L231.0 110.9 L231.4 112.2 L231.8 113.6 L232.2 114.9 L232.6 116.3 L233.0 117.7 L233.4 119.0 L233.8 120.5 L234.2 121.9 L234.6 123.3 L235.0 124.8 L235.4 126.2 L235.8 127.7 L236.2 129.2 L236.6 130.7 L237.0 132.2 L237.4 133.7 L237.8 135.2 L238.2 136.8 L238.6 138.3 L239.0 139.9 L239.4 141.4 L239.8 142.9 L240.2 144.5 L240.6 146.1 L241.0 147.6 L241.4 149.2 L241.8 150.7 L242.2 152.3 L242.6 153.9 L243.0 155.4 L243.4 157.0 L243.8 158.5 L244.2 160.1 L244.6 161.6 L245.0 163.2 L245.4 164.7 L245.8 166.3 L246.2 167.8 L246.6 169.3 L247.0 170.8 L247.4 172.3 L247.8 173.8 L248.2 175.3 L248.6 176.8 L249.0 178.3 L249.4 179.8 L249.8 181.3 L250.2 182.7 L250.6 184.2 L251.0 185.7 L251.4 187.1 L251.8 188.5 L252.2 190.0 L252.6 191.4 L253.0 192.9 L253.4 194.3 L253.8 195.7 L254.2 197.1 L254.6 198.5 L255.0 199.9 L255.4 201.3 L255.8 202.7 L256.2 204.1 L256.6 205.4 L257.0 206.8 L257.4 208.2 L257.8 209.5 L258.2 210.9 L258.6 212.2" fill="none" stroke="#bf8040" stroke-width="2.4"/>
<path d="M217.8 56.2 L218.2 57.4 L218.6 58.7 L219.0 60.2 L219.4 61.7 L219.8 63.3 L220.2 65.0 L220.6 66.8 L221.0 68.6 L221.4 70.4 L221.8 72.3 L222.2 74.1 L222.6 75.9 L223.0 77.8 L223.4 79.6 L223.8 81.4 L224.2 83.2 L224.6 85.0 L225.0 86.7 L225.4 88.5 L225.8 90.3 L226.2 92.0 L226.6 93.8 L227.0 95.5 L227.4 97.3 L227.8 99.0 L228.2 100.7 L228.6 102.4 L229.0 104.2 L229.4 105.9 L229.8 107.6 L230.2 109.3 L230.6 111.0 L231.0 112.6 L231.4 114.3 L231.8 116.0 L232.2 117.7 L232.6 119.3 L233.0 121.0 L233.4 122.6 L233.8 124.2 L234.2 125.9 L234.6 127.5 L235.0 129.1 L235.4 130.7 L235.8 132.3 L236.2 133.9 L236.6 135.4 L237.0 137.0 L237.4 138.5 L237.8 140.1 L238.2 141.6 L238.6 143.1 L239.0 144.6 L239.4 146.1 L239.8 147.5 L240.2 149.0 L240.6 150.5 L241.0 151.9 L241.4 153.3 L241.8 154.7 L242.2 156.1 L242.6 157.5 L243.0 158.9 L243.4 160.2 L243.8 161.5 L244.2 162.9 L244.6 164.2 L245.0 165.5 L245.4 166.7 L245.8 168.0 L246.2 169.2 L246.6 170.5 L247.0 171.7 L247.4 172.9 L247.8 174.1 L248.2 175.2 L248.6 176.4 L249.0 177.5 L249.4 178.6 L249.8 179.7 L250.2 180.8 L250.6 181.8 L251.0 182.9 L251.4 183.9 L251.8 184.9 L252.2 185.9 L252.6 186.9 L253.0 187.8 L253.4 188.8 L253.8 189.7 L254.2 190.6 L254.6 191.4 L255.0 192.3 L255.4 193.1 L255.8 193.9 L256.2 194.7 L256.6 195.5 L257.0 196.2 L257.4 197.0 L257.8 197.7 L258.2 198.4 L258.6 199.0 L259.0 199.7 L259.4 200.3 L259.8 200.9 L260.2 201.5 L260.6 202.1 L261.0 202.7 L261.4 203.2 L261.8 203.7 L262.2 204.2 L262.6 204.7 L263.0 205.2 L263.4 205.6 L263.8 206.1 L264.2 206.5 L264.6 206.9 L265.0 207.3 L265.4 207.6 L265.8 208.0 L266.2 208.3 L266.6 208.7 L267.0 209.0 L267.4 209.2 L267.8 209.5 L268.2 209.8 L268.6 210.0 L269.0 210.2 L269.4 210.4 L269.8 210.6 L270.2 210.8 L270.6 211.0 L271.0 211.1 L271.4 211.3 L271.8 211.4 L272.2 211.5 L272.6 211.6 L273.0 211.7 L273.4 211.8 L273.8 211.8 L274.2 211.9 L274.6 211.9 L275.0 211.9 L275.4 212.0 L275.8 212.0 L276.2 211.9 L276.6 211.9 L277.0 211.9 L277.4 211.8 L277.8 211.8 L278.2 211.7 L278.6 211.6 L279.0 211.5 L279.4 211.4 L279.8 211.3 L280.2 211.2 L280.6 211.1 L281.0 210.9 L281.4 210.8 L281.8 210.6 L282.2 210.4 L282.6 210.3 L283.0 210.1 L283.4 209.9 L283.8 209.7 L284.2 209.4 L284.6 209.2 L285.0 209.0 L285.4 208.8 L285.8 208.5 L286.2 208.2 L286.6 208.0 L287.0 207.7 L287.4 207.4 L287.8 207.1 L288.2 206.8 L288.6 206.5 L289.0 206.2 L289.4 205.9 L289.8 205.6 L290.2 205.2 L290.6 204.9 L291.0 204.5 L291.4 204.2 L291.8 203.8 L292.2 203.4 L292.6 203.0 L293.0 202.6 L293.4 202.2 L293.8 201.8 L294.2 201.4 L294.6 201.0 L295.0 200.6 L295.4 200.1 L295.8 199.7 L296.2 199.2 L296.6 198.8 L297.0 198.3 L297.4 197.9 L297.8 197.4 L298.2 196.9 L298.6 196.4 L299.0 195.9 L299.4 195.4 L299.8 194.9 L300.2 194.4 L300.6 193.9 L301.0 193.3 L301.4 192.8 L301.8 192.3 L302.2 191.7 L302.6 191.2 L303.0 190.6 L303.4 190.1 L303.8 189.5 L304.2 188.9 L304.6 188.4 L305.0 187.8 L305.4 187.2 L305.8 186.6 L306.2 186.0 L306.6 185.4 L307.0 184.8 L307.4 184.2 L307.8 183.6 L308.2 182.9 L308.6 182.3 L309.0 181.7 L309.4 181.0 L309.8 180.4 L310.2 179.8 L310.6 179.1 L311.0 178.4 L311.4 177.8 L311.8 177.1 L312.2 176.5 L312.6 175.8 L313.0 175.1 L313.4 174.4 L313.8 173.7 L314.2 173.1 L314.6 172.4 L315.0 171.7 L315.4 171.0 L315.8 170.3 L316.2 169.6 L316.6 168.9 L317.0 168.1 L317.4 167.4 L317.8 166.7 L318.2 166.0 L318.6 165.3 L319.0 164.5 L319.4 163.8 L319.8 163.1 L320.2 162.3 L320.6 161.6 L321.0 160.8 L321.4 160.1 L321.8 159.4 L322.2 158.6 L322.6 157.8 L323.0 157.1 L323.4 156.3 L323.8 155.6 L324.2 154.8 L324.6 154.0 L325.0 153.3 L325.4 152.5 L325.8 151.7 L326.2 151.0 L326.6 150.2 L327.0 149.4 L327.4 148.6 L327.8 147.9 L328.2 147.1 L328.6 146.3 L329.0 145.5 L329.4 144.7 L329.8 144.0 L330.2 143.2 L330.6 142.4 L331.0 141.6 L331.4 140.8 L331.8 140.0 L332.2 139.2 L332.6 138.5 L333.0 137.7 L333.4 136.9 L333.8 136.1 L334.2 135.3 L334.6 134.5 L335.0 133.7 L335.4 132.9 L335.8 132.1 L336.2 131.4 L336.6 130.6 L337.0 129.8 L337.4 129.0 L337.8 128.2 L338.2 127.4 L338.6 126.6 L339.0 125.9 L339.4 125.1 L339.8 124.3 L340.2 123.5 L340.6 122.8 L341.0 122.0 L341.4 121.2 L341.8 120.4 L342.2 119.7 L342.6 118.9 L343.0 118.1 L343.4 117.4 L343.8 116.6 L344.2 115.8 L344.6 115.1 L345.0 114.3 L345.4 113.6 L345.8 112.8 L346.2 112.1 L346.6 111.3 L347.0 110.6 L347.4 109.8 L347.8 109.1 L348.2 108.4 L348.6 107.6 L349.0 106.9 L349.4 106.2 L349.8 105.4 L350.2 104.7 L350.6 104.0 L351.0 103.3 L351.4 102.6 L351.8 101.9 L352.2 101.2 L352.6 100.5 L353.0 99.8 L353.4 99.1 L353.8 98.4 L354.2 97.7 L354.6 97.1 L355.0 96.4 L355.4 95.7 L355.8 95.1 L356.2 94.4 L356.6 93.7 L357.0 93.1 L357.4 92.4 L357.8 91.8 L358.2 91.2 L358.6 90.5 L359.0 89.9 L359.4 89.3 L359.8 88.7 L360.2 88.1 L360.6 87.5 L361.0 86.9 L361.4 86.3 L361.8 85.7 L362.2 85.1 L362.6 84.6 L363.0 84.0 L363.4 83.4 L363.8 82.9 L364.2 82.3 L364.6 81.8 L365.0 81.3 L365.4 80.7 L365.8 80.2 L366.2 79.7 L366.6 79.2 L367.0 78.7 L367.4 78.2 L367.8 77.8 L368.2 77.3 L368.6 76.8 L369.0 76.4 L369.4 75.9 L369.8 75.5 L370.2 75.0 L370.6 74.6 L371.0 74.2 L371.4 73.8 L371.8 73.4 L372.2 73.0 L372.6 72.6 L373.0 72.3 L373.4 71.9 L373.8 71.6 L374.2 71.2 L374.6 70.9 L375.0 70.6 L375.4 70.3 L375.8 70.0 L376.2 69.7 L376.6 69.4 L377.0 69.1 L377.4 68.9 L377.8 68.6 L378.2 68.4 L378.6 68.1 L379.0 67.9 L379.4 67.7 L379.8 67.5 L380.2 67.3 L380.6 67.2 L381.0 67.0 L381.4 66.9 L381.8 66.7 L382.2 66.6 L382.6 66.5 L383.0 66.4 L383.4 66.3 L383.8 66.2 L384.2 66.1 L384.6 66.1 L385.0 66.0 L385.4 66.0 L385.8 66.0 L386.2 66.0" fill="none" stroke="#bf8040" stroke-width="2.4"/>
<path d="M91.0 66.0 L91.4 65.9 L91.8 65.9 L92.2 65.8 L92.6 65.8 L93.0 65.7 L93.4 65.6 L93.8 65.5 L94.2 65.4 L94.6 65.4 L95.0 65.3 L95.4 65.2 L95.8 65.1 L96.2 64.9 L96.6 64.8 L97.0 64.7 L97.4 64.6 L97.8 64.5 L98.2 64.3 L98.6 64.2 L99.0 64.1 L99.4 63.9 L99.8 63.8 L100.2 63.6 L100.6 63.5 L101.0 63.3 L101.4 63.2 L101.8 63.0 L102.2 62.8 L102.6 62.7 L103.0 62.5 L103.4 62.3 L103.8 62.1 L104.2 62.0 L104.6 61.8 L105.0 61.6 L105.4 61.4 L105.8 61.2 L106.2 61.0 L106.6 60.8 L107.0 60.6 L107.4 60.4 L107.8 60.2 L108.2 60.0 L108.6 59.7 L109.0 59.5 L109.4 59.3 L109.8 59.1 L110.2 58.9 L110.6 58.6 L111.0 58.4 L111.4 58.2 L111.8 57.9 L112.2 57.7 L112.6 57.4 L113.0 57.2 L113.4 57.0 L113.8 56.7 L114.2 56.5 L114.6 56.2 L115.0 56.0 L115.4 55.7 L115.8 55.5 L116.2 55.2 L116.6 54.9 L117.0 54.7 L117.4 54.4 L117.8 54.1 L118.2 53.9 L118.6 53.6 L119.0 53.3 L119.4 53.1 L119.8 52.8 L120.2 52.5 L120.6 52.3 L121.0 52.0 L121.4 51.7 L121.8 51.4 L122.2 51.1 L122.6 50.9 L123.0 50.6 L123.4 50.3 L123.8 50.0 L124.2 49.7 L124.6 49.5 L125.0 49.2 L125.4 48.9 L125.8 48.6 L126.2 48.3 L126.6 48.0 L127.0 47.7 L127.4 47.5 L127.8 47.2 L128.2 46.9 L128.6 46.6 L129.0 46.3 L129.4 46.0 L129.8 45.7 L130.2 45.4 L130.6 45.1 L131.0 44.8 L131.4 44.6 L131.8 44.3 L132.2 44.0 L132.6 43.7 L133.0 43.4 L133.4 43.1 L133.8 42.8 L134.2 42.5 L134.6 42.2 L135.0 42.0 L135.4 41.7 L135.8 41.4 L136.2 41.1 L136.6 40.8 L137.0 40.5 L137.4 40.3 L137.8 40.0 L138.2 39.7 L138.6 39.4 L139.0 39.1 L139.4 38.9 L139.8 38.6 L140.2 38.3 L140.6 38.0 L141.0 37.8 L141.4 37.5 L141.8 37.2 L142.2 36.9 L142.6 36.7 L143.0 36.4 L143.4 36.1 L143.8 35.9 L144.2 35.6 L144.6 35.4 L145.0 35.1 L145.4 34.8 L145.8 34.6 L146.2 34.3 L146.6 34.1 L147.0 33.8 L147.4 33.6 L147.8 33.4 L148.2 33.1 L148.6 32.9 L149.0 32.6 L149.4 32.4 L149.8 32.2 L150.2 32.0 L150.6 31.7 L151.0 31.5 L151.4 31.3 L151.8 31.1 L152.2 30.9 L152.6 30.7 L153.0 30.5 L153.4 30.3 L153.8 30.1 L154.2 29.9 L154.6 29.7 L155.0 29.5 L155.4 29.3 L155.8 29.1 L156.2 29.0 L156.6 28.8 L157.0 28.6 L157.4 28.5 L157.8 28.3 L158.2 28.1 L158.6 28.0 L159.0 27.9 L159.4 27.7 L159.8 27.6 L160.2 27.4 L160.6 27.3 L161.0 27.2 L161.4 27.1 L161.8 27.0 L162.2 26.9 L162.6 26.8 L163.0 26.7 L163.4 26.6 L163.8 26.5 L164.2 26.4 L164.6 26.3 L165.0 26.2 L165.4 26.2 L165.8 26.1 L166.2 26.1 L166.6 26.0 L167.0 26.0 L167.4 25.9 L167.8 25.9 L168.2 25.9 L168.6 25.9 L169.0 25.8 L169.4 25.8 L169.8 25.8 L170.2 25.8 L170.6 25.8 L171.0 25.9 L171.4 25.9 L171.8 25.9 L172.2 25.9 L172.6 26.0 L173.0 26.0 L173.4 26.1 L173.8 26.1 L174.2 26.2 L174.6 26.3 L175.0 26.4 L175.4 26.4 L175.8 26.5 L176.2 26.6 L176.6 26.7 L177.0 26.8 L177.4 27.0 L177.8 27.1 L178.2 27.2 L178.6 27.3 L179.0 27.5 L179.4 27.6 L179.8 27.8 L180.2 28.0 L180.6 28.1 L181.0 28.3 L181.4 28.5 L181.8 28.7 L182.2 28.9 L182.6 29.1 L183.0 29.3 L183.4 29.5 L183.8 29.8 L184.2 30.0 L184.6 30.2 L185.0 30.5 L185.4 30.7 L185.8 31.0 L186.2 31.3 L186.6 31.6 L187.0 31.8 L187.4 32.1 L187.8 32.4 L188.2 32.7 L188.6 33.1 L189.0 33.4 L189.4 33.7 L189.8 34.1 L190.2 34.4 L190.6 34.8 L191.0 35.2 L191.4 35.6 L191.8 36.0 L192.2 36.4 L192.6 36.8 L193.0 37.2 L193.4 37.6 L193.8 38.1 L194.2 38.5 L194.6 39.0 L195.0 39.5 L195.4 39.9 L195.8 40.4 L196.2 41.0 L196.6 41.5 L197.0 42.0 L197.4 42.5 L197.8 43.1 L198.2 43.7 L198.6 44.2 L199.0 44.8 L199.4 45.4 L199.8 46.1 L200.2 46.7 L200.6 47.3 L201.0 48.0 L201.4 48.6 L201.8 49.3 L202.2 50.0 L202.6 50.7 L203.0 51.4 L203.4 52.1 L203.8 52.9 L204.2 53.6 L204.6 54.4 L205.0 55.1 L205.4 55.9 L205.8 56.7 L206.2 57.5 L206.6 58.3 L207.0 59.1 L207.4 60.0 L207.8 60.8 L208.2 61.7 L208.6 62.5 L209.0 63.4 L209.4 64.3 L209.8 65.2 L210.2 66.1 L210.6 67.0 L211.0 67.9 L211.4 68.8 L211.8 69.8 L212.2 70.7 L212.6 71.6 L213.0 72.6 L213.4 73.6 L213.8 74.5 L214.2 75.5 L214.6 76.5 L215.0 77.5 L215.4 78.5 L215.8 79.5 L216.2 80.5 L216.6 81.5 L217.0 82.6 L217.4 83.6 L217.8 84.7 L218.2 85.7 L218.6 86.8 L219.0 87.9 L219.4 89.0 L219.8 90.1 L220.2 91.2 L220.6 92.4 L221.0 93.5 L221.4 94.7 L221.8 95.9 L222.2 97.2 L222.6 98.4 L223.0 99.7 L223.4 101.0 L223.8 102.3 L224.2 103.6 L224.6 105.0 L225.0 106.4 L225.4 107.8 L225.8 109.2 L226.2 110.7 L226.6 112.2 L227.0 113.8 L227.4 115.4 L227.8 117.0 L228.2 118.6 L228.6 120.3 L229.0 122.0 L229.4 123.8 L229.8 125.6 L230.2 127.4 L230.6 129.2 L231.0 131.1 L231.4 133.0 L231.8 134.9 L232.2 136.9 L232.6 138.9 L233.0 140.9 L233.4 142.9 L233.8 144.9 L234.2 147.0 L234.6 149.1 L235.0 151.2 L235.4 153.3 L235.8 155.4 L236.2 157.6 L236.6 159.8 L237.0 162.0 L237.4 164.1 L237.8 166.4 L238.2 168.6 L238.6 170.8 L239.0 173.0 L239.4 175.3 L239.8 177.5 L240.2 179.8 L240.6 182.0 L241.0 184.3 L241.4 186.6 L241.8 188.8 L242.2 191.1 L242.6 193.3 L243.0 195.6 L243.4 197.9 L243.8 200.1 L244.2 202.4 L244.6 204.6 L245.0 206.8 L245.4 209.1 L245.8 211.3 L246.2 213.5 L246.6 215.7 L247.0 217.9 L247.4 220.1 L247.8 222.3 L248.2 224.4 L248.6 226.6 L249.0 228.8 L249.4 230.9 L249.8 233.0 L250.2 235.2 L250.6 237.3 L251.0 239.4 L251.4 241.5 L251.8 243.6 L252.2 245.7 L252.6 247.8 L253.0 249.8 L253.4 251.9 L253.8 254.0 L254.2 256.0 L254.6 258.0 L255.0 260.1 L255.4 262.1 L255.8 264.1 L256.2 266.1 L256.6 268.1 L257.0 270.1 L257.4 272.1 L257.8 274.0 L258.2 276.0 L258.6 277.9" fill="none" stroke="#000000" stroke-width="2.4" stroke-dasharray="4.8 4.1"/>
<path d="M217.8 58.5 L218.2 61.4 L218.6 64.2 L219.0 66.7 L219.4 69.1 L219.8 71.5 L220.2 73.7 L220.6 75.8 L221.0 77.9 L221.4 80.0 L221.8 82.0 L222.2 84.1 L222.6 86.1 L223.0 88.1 L223.4 90.1 L223.8 92.1 L224.2 94.0 L224.6 96.0 L225.0 98.0 L225.4 100.0 L225.8 102.0 L226.2 104.0 L226.6 106.0 L227.0 108.0 L227.4 110.0 L227.8 112.1 L228.2 114.1 L228.6 116.2 L229.0 118.2 L229.4 120.3 L229.8 122.4 L230.2 124.5 L230.6 126.6 L231.0 128.7 L231.4 130.9 L231.8 133.0 L232.2 135.1 L232.6 137.3 L233.0 139.5 L233.4 141.6 L233.8 143.8 L234.2 146.0 L234.6 148.2 L235.0 150.4 L235.4 152.7 L235.8 154.9 L236.2 157.1 L236.6 159.4 L237.0 161.6 L237.4 163.9 L237.8 166.1 L238.2 168.4 L238.6 170.7 L239.0 172.9 L239.4 175.2 L239.8 177.5 L240.2 179.8 L240.6 182.1 L241.0 184.4 L241.4 186.6 L241.8 188.9 L242.2 191.2 L242.6 193.5 L243.0 195.8 L243.4 198.0 L243.8 200.3 L244.2 202.6 L244.6 204.9 L245.0 207.1 L245.4 209.4 L245.8 211.6 L246.2 213.8 L246.6 215.9 L247.0 218.0 L247.4 220.1 L247.8 222.1 L248.2 224.0 L248.6 225.9 L249.0 227.7 L249.4 229.5 L249.8 231.1 L250.2 232.7 L250.6 234.2 L251.0 235.6 L251.4 236.9 L251.8 238.2 L252.2 239.4 L252.6 240.5 L253.0 241.6 L253.4 242.7 L253.8 243.7 L254.2 244.7 L254.6 245.7 L255.0 246.6 L255.4 247.6 L255.8 248.5 L256.2 249.5 L256.6 250.4 L257.0 251.3 L257.4 252.2 L257.8 253.1 L258.2 254.0 L258.6 254.8 L259.0 255.7 L259.4 256.5 L259.8 257.4 L260.2 258.2 L260.6 259.0 L261.0 259.7 L261.4 260.5 L261.8 261.3 L262.2 262.0 L262.6 262.7 L263.0 263.4 L263.4 264.1 L263.8 264.7 L264.2 265.3 L264.6 266.0 L265.0 266.6 L265.4 267.1 L265.8 267.7 L266.2 268.3 L266.6 268.8 L267.0 269.3 L267.4 269.8 L267.8 270.3 L268.2 270.7 L268.6 271.2 L269.0 271.6 L269.4 272.0 L269.8 272.4 L270.2 272.7 L270.6 273.1 L271.0 273.4 L271.4 273.7 L271.8 274.0 L272.2 274.3 L272.6 274.6 L273.0 274.8 L273.4 275.1 L273.8 275.3 L274.2 275.5 L274.6 275.7 L275.0 275.8 L275.4 276.0 L275.8 276.1 L276.2 276.2 L276.6 276.3 L277.0 276.4 L277.4 276.4 L277.8 276.5 L278.2 276.5 L278.6 276.5 L279.0 276.5 L279.4 276.5 L279.8 276.5 L280.2 276.4 L280.6 276.3 L281.0 276.2 L281.4 276.1 L281.8 276.0 L282.2 275.9 L282.6 275.7 L283.0 275.5 L283.4 275.4 L283.8 275.2 L284.2 274.9 L284.6 274.7 L285.0 274.4 L285.4 274.2 L285.8 273.9 L286.2 273.6 L286.6 273.3 L287.0 273.0 L287.4 272.6 L287.8 272.3 L288.2 271.9 L288.6 271.5 L289.0 271.1 L289.4 270.7 L289.8 270.3 L290.2 269.8 L290.6 269.4 L291.0 268.9 L291.4 268.4 L291.8 267.9 L292.2 267.4 L292.6 266.9 L293.0 266.4 L293.4 265.8 L293.8 265.3 L294.2 264.7 L294.6 264.1 L295.0 263.5 L295.4 262.9 L295.8 262.3 L296.2 261.6 L296.6 261.0 L297.0 260.3 L297.4 259.7 L297.8 259.0 L298.2 258.3 L298.6 257.6 L299.0 256.9 L299.4 256.2 L299.8 255.4 L300.2 254.7 L300.6 253.9 L301.0 253.2 L301.4 252.4 L301.8 251.6 L302.2 250.8 L302.6 250.0 L303.0 249.2 L303.4 248.4 L303.8 247.5 L304.2 246.7 L304.6 245.8 L305.0 245.0 L305.4 244.1 L305.8 243.2 L306.2 242.3 L306.6 241.5 L307.0 240.6 L307.4 239.6 L307.8 238.7 L308.2 237.8 L308.6 236.9 L309.0 235.9 L309.4 235.0 L309.8 234.0 L310.2 233.0 L310.6 232.1 L311.0 231.1 L311.4 230.1 L311.8 229.1 L312.2 228.1 L312.6 227.1 L313.0 226.1 L313.4 225.1 L313.8 224.1 L314.2 223.0 L314.6 222.0 L315.0 221.0 L315.4 219.9 L315.8 218.9 L316.2 217.8 L316.6 216.8 L317.0 215.7 L317.4 214.6 L317.8 213.5 L318.2 212.5 L318.6 211.4 L319.0 210.3 L319.4 209.2 L319.8 208.1 L320.2 207.0 L320.6 205.9 L321.0 204.8 L321.4 203.7 L321.8 202.6 L322.2 201.4 L322.6 200.3 L323.0 199.2 L323.4 198.1 L323.8 196.9 L324.2 195.8 L324.6 194.7 L325.0 193.5 L325.4 192.4 L325.8 191.3 L326.2 190.1 L326.6 189.0 L327.0 187.8 L327.4 186.7 L327.8 185.5 L328.2 184.4 L328.6 183.2 L329.0 182.1 L329.4 180.9 L329.8 179.7 L330.2 178.6 L330.6 177.4 L331.0 176.3 L331.4 175.1 L331.8 174.0 L332.2 172.8 L332.6 171.6 L333.0 170.5 L333.4 169.3 L333.8 168.2 L334.2 167.0 L334.6 165.8 L335.0 164.7 L335.4 163.5 L335.8 162.4 L336.2 161.2 L336.6 160.1 L337.0 158.9 L337.4 157.8 L337.8 156.6 L338.2 155.5 L338.6 154.3 L339.0 153.2 L339.4 152.0 L339.8 150.9 L340.2 149.8 L340.6 148.6 L341.0 147.5 L341.4 146.4 L341.8 145.2 L342.2 144.1 L342.6 143.0 L343.0 141.9 L343.4 140.7 L343.8 139.6 L344.2 138.5 L344.6 137.4 L345.0 136.3 L345.4 135.2 L345.8 134.1 L346.2 133.0 L346.6 131.9 L347.0 130.9 L347.4 129.8 L347.8 128.7 L348.2 127.6 L348.6 126.6 L349.0 125.5 L349.4 124.5 L349.8 123.4 L350.2 122.4 L350.6 121.3 L351.0 120.3 L351.4 119.3 L351.8 118.2 L352.2 117.2 L352.6 116.2 L353.0 115.2 L353.4 114.2 L353.8 113.2 L354.2 112.2 L354.6 111.2 L355.0 110.3 L355.4 109.3 L355.8 108.3 L356.2 107.4 L356.6 106.4 L357.0 105.5 L357.4 104.6 L357.8 103.7 L358.2 102.7 L358.6 101.8 L359.0 100.9 L359.4 100.0 L359.8 99.1 L360.2 98.3 L360.6 97.4 L361.0 96.5 L361.4 95.7 L361.8 94.9 L362.2 94.0 L362.6 93.2 L363.0 92.4 L363.4 91.6 L363.8 90.8 L364.2 90.0 L364.6 89.2 L365.0 88.5 L365.4 87.7 L365.8 87.0 L366.2 86.2 L366.6 85.5 L367.0 84.8 L367.4 84.1 L367.8 83.4 L368.2 82.7 L368.6 82.0 L369.0 81.4 L369.4 80.7 L369.8 80.1 L370.2 79.5 L370.6 78.9 L371.0 78.3 L371.4 77.7 L371.8 77.1 L372.2 76.6 L372.6 76.0 L373.0 75.5 L373.4 74.9 L373.8 74.4 L374.2 73.9 L374.6 73.5 L375.0 73.0 L375.4 72.5 L375.8 72.1 L376.2 71.7 L376.6 71.3 L377.0 70.9 L377.4 70.5 L377.8 70.1 L378.2 69.8 L378.6 69.4 L379.0 69.1 L379.4 68.8 L379.8 68.5 L380.2 68.2 L380.6 67.9 L381.0 67.7 L381.4 67.5 L381.8 67.3 L382.2 67.1 L382.6 66.9 L383.0 66.7 L383.4 66.6 L383.8 66.4 L384.2 66.3 L384.6 66.2 L385.0 66.1 L385.4 66.1 L385.8 66.0 L386.2 66.0" fill="none" stroke="#000000" stroke-width="2.4" stroke-dasharray="4.8 4.1"/>
<path d="M91.0 66.0 L91.4 66.0 L91.8 65.9 L92.2 65.9 L92.6 65.8 L93.0 65.8 L93.4 65.7 L93.8 65.7 L94.2 65.6 L94.6 65.6 L95.0 65.5 L95.4 65.4 L95.8 65.4 L96.2 65.3 L96.6 65.2 L97.0 65.1 L97.4 65.0 L97.8 65.0 L98.2 64.9 L98.6 64.8 L99.0 64.7 L99.4 64.6 L99.8 64.5 L100.2 64.4 L100.6 64.3 L101.0 64.2 L101.4 64.1 L101.8 63.9 L102.2 63.8 L102.6 63.7 L103.0 63.6 L103.4 63.5 L103.8 63.4 L104.2 63.2 L104.6 63.1 L105.0 63.0 L105.4 62.8 L105.8 62.7 L106.2 62.6 L106.6 62.4 L107.0 62.3 L107.4 62.1 L107.8 62.0 L108.2 61.9 L108.6 61.7 L109.0 61.6 L109.4 61.4 L109.8 61.3 L110.2 61.1 L110.6 60.9 L111.0 60.8 L111.4 60.6 L111.8 60.5 L112.2 60.3 L112.6 60.1 L113.0 60.0 L113.4 59.8 L113.8 59.6 L114.2 59.5 L114.6 59.3 L115.0 59.1 L115.4 58.9 L115.8 58.8 L116.2 58.6 L116.6 58.4 L117.0 58.2 L117.4 58.1 L117.8 57.9 L118.2 57.7 L118.6 57.5 L119.0 57.3 L119.4 57.1 L119.8 56.9 L120.2 56.8 L120.6 56.6 L121.0 56.4 L121.4 56.2 L121.8 56.0 L122.2 55.8 L122.6 55.6 L123.0 55.4 L123.4 55.2 L123.8 55.0 L124.2 54.8 L124.6 54.7 L125.0 54.5 L125.4 54.3 L125.8 54.1 L126.2 53.9 L126.6 53.7 L127.0 53.5 L127.4 53.3 L127.8 53.1 L128.2 52.9 L128.6 52.7 L129.0 52.5 L129.4 52.3 L129.8 52.1 L130.2 51.9 L130.6 51.7 L131.0 51.5 L131.4 51.3 L131.8 51.1 L132.2 50.9 L132.6 50.7 L133.0 50.5 L133.4 50.3 L133.8 50.1 L134.2 49.9 L134.6 49.7 L135.0 49.5 L135.4 49.3 L135.8 49.1 L136.2 48.9 L136.6 48.7 L137.0 48.5 L137.4 48.3 L137.8 48.1 L138.2 48.0 L138.6 47.8 L139.0 47.6 L139.4 47.4 L139.8 47.2 L140.2 47.0 L140.6 46.8 L141.0 46.6 L141.4 46.4 L141.8 46.2 L142.2 46.1 L142.6 45.9 L143.0 45.7 L143.4 45.5 L143.8 45.3 L144.2 45.2 L144.6 45.0 L145.0 44.8 L145.4 44.6 L145.8 44.5 L146.2 44.3 L146.6 44.1 L147.0 43.9 L147.4 43.8 L147.8 43.6 L148.2 43.4 L148.6 43.3 L149.0 43.1 L149.4 43.0 L149.8 42.8 L150.2 42.6 L150.6 42.5 L151.0 42.3 L151.4 42.2 L151.8 42.0 L152.2 41.9 L152.6 41.8 L153.0 41.6 L153.4 41.5 L153.8 41.3 L154.2 41.2 L154.6 41.1 L155.0 41.0 L155.4 40.8 L155.8 40.7 L156.2 40.6 L156.6 40.5 L157.0 40.4 L157.4 40.2 L157.8 40.1 L158.2 40.0 L158.6 39.9 L159.0 39.8 L159.4 39.7 L159.8 39.6 L160.2 39.6 L160.6 39.5 L161.0 39.4 L161.4 39.3 L161.8 39.2 L162.2 39.1 L162.6 39.1 L163.0 39.0 L163.4 38.9 L163.8 38.9 L164.2 38.8 L164.6 38.8 L165.0 38.7 L165.4 38.7 L165.8 38.6 L166.2 38.6 L166.6 38.6 L167.0 38.5 L167.4 38.5 L167.8 38.5 L168.2 38.5 L168.6 38.5 L169.0 38.5 L169.4 38.4 L169.8 38.4 L170.2 38.4 L170.6 38.5 L171.0 38.5 L171.4 38.5 L171.8 38.5 L172.2 38.5 L172.6 38.5 L173.0 38.6 L173.4 38.6 L173.8 38.7 L174.2 38.7 L174.6 38.8 L175.0 38.8 L175.4 38.9 L175.8 38.9 L176.2 39.0 L176.6 39.1 L177.0 39.1 L177.4 39.2 L177.8 39.3 L178.2 39.4 L178.6 39.5 L179.0 39.6 L179.4 39.7 L179.8 39.8 L180.2 39.9 L180.6 40.0 L181.0 40.1 L181.4 40.3 L181.8 40.4 L182.2 40.5 L182.6 40.7 L183.0 40.8 L183.4 41.0 L183.8 41.1 L184.2 41.3 L184.6 41.5 L185.0 41.6 L185.4 41.8 L185.8 42.0 L186.2 42.2 L186.6 42.4 L187.0 42.6 L187.4 42.8 L187.8 43.0 L188.2 43.2 L188.6 43.4 L189.0 43.6 L189.4 43.9 L189.8 44.1 L190.2 44.3 L190.6 44.6 L191.0 44.9 L191.4 45.1 L191.8 45.4 L192.2 45.7 L192.6 45.9 L193.0 46.2 L193.4 46.5 L193.8 46.8 L194.2 47.2 L194.6 47.5 L195.0 47.8 L195.4 48.1 L195.8 48.5 L196.2 48.8 L196.6 49.2 L197.0 49.5 L197.4 49.9 L197.8 50.3 L198.2 50.7 L198.6 51.1 L199.0 51.5 L199.4 51.9 L199.8 52.3 L200.2 52.7 L200.6 53.2 L201.0 53.6 L201.4 54.1 L201.8 54.6 L202.2 55.0 L202.6 55.5 L203.0 56.0 L203.4 56.5 L203.8 57.0 L204.2 57.5 L204.6 58.0 L205.0 58.5 L205.4 59.0 L205.8 59.5 L206.2 60.1 L206.6 60.6 L207.0 61.1 L207.4 61.7 L207.8 62.3 L208.2 62.9 L208.6 63.5 L209.0 64.1 L209.4 65.9 L209.8 66.0 L210.2 66.4 L210.6 66.8 L211.0 67.3 L211.4 67.8 L211.8 68.5 L212.2 69.1 L212.6 69.8 L213.0 70.5 L213.4 71.2 L213.8 71.8 L214.2 72.4 L214.6 73.0 L215.0 73.5 L215.4 74.0 L215.8 74.5 L216.2 75.0 L216.6 75.4 L217.0 75.8 L217.4 76.3 L217.8 76.7 L218.2 77.2 L218.6 77.6 L219.0 78.2 L219.4 78.7 L219.8 79.3 L220.2 79.9 L220.6 80.6 L221.0 81.4 L221.4 82.2 L221.8 83.0 L222.2 83.8 L222.6 84.7 L223.0 85.6 L223.4 86.6 L223.8 87.5 L224.2 88.4 L224.6 89.4 L225.0 90.3 L225.4 91.3 L225.8 92.2 L226.2 93.2 L226.6 94.1 L227.0 95.0 L227.4 95.9 L227.8 96.9 L228.2 97.8 L228.6 98.9 L229.0 100.0 L229.4 101.1 L229.8 102.3 L230.2 103.7 L230.6 105.1 L231.0 106.6 L231.4 108.3 L231.8 110.1 L232.2 112.0 L232.6 113.9 L233.0 116.0 L233.4 118.1 L233.8 120.3 L234.2 122.5 L234.6 124.8 L235.0 127.1 L235.4 129.5 L235.8 131.8 L236.2 134.1 L236.6 136.5 L237.0 138.8 L237.4 141.1 L237.8 143.4 L238.2 145.6 L238.6 147.9 L239.0 150.2 L239.4 152.4 L239.8 154.7 L240.2 156.9 L240.6 159.1 L241.0 161.3 L241.4 163.5 L241.8 165.7 L242.2 167.9 L242.6 170.0 L243.0 172.2 L243.4 174.3 L243.8 176.4 L244.2 178.5 L244.6 180.6 L245.0 182.6 L245.4 184.7 L245.8 186.7 L246.2 188.7 L246.6 190.8 L247.0 192.8 L247.4 194.7 L247.8 196.7 L248.2 198.7 L248.6 200.7 L249.0 202.6 L249.4 204.6 L249.8 206.5 L250.2 208.5 L250.6 210.4 L251.0 212.3 L251.4 214.3 L251.8 216.2 L252.2 218.2 L252.6 220.1 L253.0 222.1 L253.4 224.0 L253.8 226.0 L254.2 227.9 L254.6 229.9 L255.0 231.9 L255.4 233.9 L255.8 235.9 L256.2 237.9 L256.6 239.9 L257.0 242.0 L257.4 244.0 L257.8 246.1 L258.2 248.2 L258.6 250.3" fill="none" stroke="#000000" stroke-width="2.4"/>
<path d="M217.8 35.2 L218.2 37.4 L218.6 39.5 L219.0 41.6 L219.4 43.6 L219.8 45.6 L220.2 47.6 L220.6 49.6 L221.0 51.6 L221.4 53.5 L221.8 55.5 L222.2 57.5 L222.6 59.5 L223.0 61.5 L223.4 63.5 L223.8 65.6 L224.2 67.7 L224.6 69.8 L225.0 71.9 L225.4 74.1 L225.8 76.3 L226.2 78.5 L226.6 80.7 L227.0 82.9 L227.4 85.1 L227.8 87.4 L228.2 89.6 L228.6 91.9 L229.0 94.2 L229.4 96.5 L229.8 98.7 L230.2 101.0 L230.6 103.3 L231.0 105.6 L231.4 107.9 L231.8 110.2 L232.2 112.4 L232.6 114.7 L233.0 117.0 L233.4 119.3 L233.8 121.6 L234.2 123.8 L234.6 126.1 L235.0 128.3 L235.4 130.6 L235.8 132.8 L236.2 135.1 L236.6 137.3 L237.0 139.5 L237.4 141.7 L237.8 143.9 L238.2 146.1 L238.6 148.3 L239.0 150.5 L239.4 152.6 L239.8 154.8 L240.2 156.9 L240.6 159.0 L241.0 161.1 L241.4 163.2 L241.8 165.2 L242.2 167.3 L242.6 169.3 L243.0 171.2 L243.4 173.2 L243.8 175.1 L244.2 176.9 L244.6 178.8 L245.0 180.5 L245.4 182.3 L245.8 184.0 L246.2 185.6 L246.6 187.2 L247.0 188.8 L247.4 190.2 L247.8 191.7 L248.2 193.0 L248.6 194.3 L249.0 195.6 L249.4 196.8 L249.8 198.0 L250.2 199.1 L250.6 200.2 L251.0 201.2 L251.4 202.2 L251.8 203.1 L252.2 204.0 L252.6 204.9 L253.0 205.7 L253.4 206.5 L253.8 207.2 L254.2 207.9 L254.6 208.6 L255.0 209.3 L255.4 209.9 L255.8 210.5 L256.2 211.0 L256.6 211.5 L257.0 212.0 L257.4 212.5 L257.8 213.0 L258.2 213.4 L258.6 213.8 L259.0 214.2 L259.4 214.5 L259.8 214.9 L260.2 215.2 L260.6 215.5 L261.0 215.8 L261.4 216.1 L261.8 216.4 L262.2 216.7 L262.6 216.9 L263.0 217.2 L263.4 217.4 L263.8 217.6 L264.2 217.9 L264.6 218.1 L265.0 218.3 L265.4 218.5 L265.8 218.8 L266.2 219.0 L266.6 219.2 L267.0 219.4 L267.4 219.6 L267.8 219.8 L268.2 220.0 L268.6 220.1 L269.0 220.3 L269.4 220.5 L269.8 220.6 L270.2 220.8 L270.6 221.0 L271.0 221.1 L271.4 221.2 L271.8 221.4 L272.2 221.5 L272.6 221.6 L273.0 221.7 L273.4 221.8 L273.8 221.9 L274.2 222.0 L274.6 222.1 L275.0 222.2 L275.4 222.2 L275.8 222.3 L276.2 222.3 L276.6 222.4 L277.0 222.4 L277.4 222.4 L277.8 222.4 L278.2 222.4 L278.6 222.4 L279.0 222.4 L279.4 222.4 L279.8 222.3 L280.2 222.3 L280.6 222.2 L281.0 222.1 L281.4 222.1 L281.8 222.0 L282.2 221.9 L282.6 221.7 L283.0 221.6 L283.4 221.5 L283.8 221.3 L284.2 221.2 L284.6 221.0 L285.0 220.8 L285.4 220.6 L285.8 220.4 L286.2 220.2 L286.6 219.9 L287.0 219.7 L287.4 219.4 L287.8 219.2 L288.2 218.9 L288.6 218.6 L289.0 218.3 L289.4 218.0 L289.8 217.7 L290.2 217.3 L290.6 217.0 L291.0 216.6 L291.4 216.3 L291.8 215.9 L292.2 215.5 L292.6 215.1 L293.0 214.7 L293.4 214.3 L293.8 213.9 L294.2 213.5 L294.6 213.0 L295.0 212.6 L295.4 212.1 L295.8 211.6 L296.2 211.2 L296.6 210.7 L297.0 210.2 L297.4 209.7 L297.8 209.2 L298.2 208.7 L298.6 208.1 L299.0 207.6 L299.4 207.0 L299.8 206.5 L300.2 205.9 L300.6 205.4 L301.0 204.8 L301.4 204.2 L301.8 203.6 L302.2 203.0 L302.6 202.4 L303.0 201.8 L303.4 201.2 L303.8 200.6 L304.2 199.9 L304.6 199.3 L305.0 198.6 L305.4 198.0 L305.8 197.3 L306.2 196.7 L306.6 196.0 L307.0 195.3 L307.4 194.6 L307.8 194.0 L308.2 193.3 L308.6 192.6 L309.0 191.9 L309.4 191.2 L309.8 190.4 L310.2 189.7 L310.6 189.0 L311.0 188.3 L311.4 187.5 L311.8 186.8 L312.2 186.1 L312.6 185.3 L313.0 184.6 L313.4 183.8 L313.8 183.1 L314.2 182.3 L314.6 181.5 L315.0 180.8 L315.4 180.0 L315.8 179.2 L316.2 178.4 L316.6 177.6 L317.0 176.9 L317.4 176.1 L317.8 175.3 L318.2 174.5 L318.6 173.7 L319.0 172.9 L319.4 172.1 L319.8 171.3 L320.2 170.5 L320.6 169.6 L321.0 168.8 L321.4 168.0 L321.8 167.2 L322.2 166.4 L322.6 165.6 L323.0 164.7 L323.4 163.9 L323.8 163.1 L324.2 162.3 L324.6 161.4 L325.0 160.6 L325.4 159.8 L325.8 159.0 L326.2 158.1 L326.6 157.3 L327.0 156.5 L327.4 155.6 L327.8 154.8 L328.2 154.0 L328.6 153.1 L329.0 152.3 L329.4 151.5 L329.8 150.6 L330.2 149.8 L330.6 148.9 L331.0 148.1 L331.4 147.3 L331.8 146.4 L332.2 145.6 L332.6 144.8 L333.0 143.9 L333.4 143.1 L333.8 142.3 L334.2 141.4 L334.6 140.6 L335.0 139.8 L335.4 138.9 L335.8 138.1 L336.2 137.3 L336.6 136.4 L337.0 135.6 L337.4 134.8 L337.8 134.0 L338.2 133.1 L338.6 132.3 L339.0 131.5 L339.4 130.7 L339.8 129.8 L340.2 129.0 L340.6 128.2 L341.0 127.4 L341.4 126.6 L341.8 125.8 L342.2 125.0 L342.6 124.2 L343.0 123.3 L343.4 122.5 L343.8 121.7 L344.2 121.0 L344.6 120.2 L345.0 119.4 L345.4 118.6 L345.8 117.8 L346.2 117.0 L346.6 116.2 L347.0 115.4 L347.4 114.7 L347.8 113.9 L348.2 113.1 L348.6 112.4 L349.0 111.6 L349.4 110.8 L349.8 110.1 L350.2 109.3 L350.6 108.6 L351.0 107.8 L351.4 107.1 L351.8 106.4 L352.2 105.6 L352.6 104.9 L353.0 104.2 L353.4 103.4 L353.8 102.7 L354.2 102.0 L354.6 101.3 L355.0 100.6 L355.4 99.9 L355.8 99.2 L356.2 98.5 L356.6 97.8 L357.0 97.1 L357.4 96.5 L357.8 95.8 L358.2 95.1 L358.6 94.5 L359.0 93.8 L359.4 93.1 L359.8 92.5 L360.2 91.9 L360.6 91.2 L361.0 90.6 L361.4 90.0 L361.8 89.3 L362.2 88.7 L362.6 88.1 L363.0 87.5 L363.4 86.9 L363.8 86.3 L364.2 85.8 L364.6 85.2 L365.0 84.6 L365.4 84.0 L365.8 83.5 L366.2 82.9 L366.6 82.4 L367.0 81.9 L367.4 81.3 L367.8 80.8 L368.2 80.3 L368.6 79.8 L369.0 79.3 L369.4 78.8 L369.8 78.3 L370.2 77.8 L370.6 77.4 L371.0 76.9 L371.4 76.5 L371.8 76.0 L372.2 75.6 L372.6 75.1 L373.0 74.7 L373.4 74.3 L373.8 73.9 L374.2 73.5 L374.6 73.1 L375.0 72.7 L375.4 72.4 L375.8 72.0 L376.2 71.7 L376.6 71.3 L377.0 71.0 L377.4 70.7 L377.8 70.3 L378.2 70.0 L378.6 69.7 L379.0 69.5 L379.4 69.2 L379.8 68.9 L380.2 68.7 L380.6 68.4 L381.0 68.2 L381.4 67.9 L381.8 67.7 L382.2 67.5 L382.6 67.3 L383.0 67.1 L383.4 67.0 L383.8 66.8 L384.2 66.6 L384.6 66.5 L385.0 66.4 L385.4 66.3 L385.8 66.1 L386.2 66.0" fill="none" stroke="#000000" stroke-width="2.4"/></g>
<line x1="61.20" y1="0.45" x2="61.20" y2="306.40" stroke="#000" stroke-width="0.5"/>
<line x1="415.70" y1="0.45" x2="415.70" y2="306.40" stroke="#000" stroke-width="0.7"/>
<line x1="60.90" y1="0.45" x2="416.10" y2="0.45" stroke="#000" stroke-width="0.9"/>
<line x1="60.90" y1="306.40" x2="416.10" y2="306.40" stroke="#000" stroke-width="0.9"/>
<rect x="354.5" y="143.5" width="226.0" height="150.8" fill="#fff" stroke="#000" stroke-width="1"/>
<line x1="360.2" y1="155.50" x2="385.2" y2="155.50" stroke="#ff0000" stroke-width="2.4" stroke-dasharray="4.8 4.1"/>
<text x="389.6" y="158.80" textLength="163.0" lengthAdjust="spacingAndGlyphs">Step 1, initial plate solution</text>
<line x1="360.2" y1="173.57" x2="385.2" y2="173.57" stroke="#ff0000" stroke-width="2.4"/>
<text x="389.6" y="176.93" textLength="182.4" lengthAdjust="spacingAndGlyphs">Step 1, corrected plate solution</text>
<line x1="360.2" y1="191.64" x2="385.2" y2="191.64" stroke="#0000ff" stroke-width="2.4" stroke-dasharray="4.8 4.1"/>
<text x="389.6" y="195.06" textLength="163.0" lengthAdjust="spacingAndGlyphs">Step 2, initial plate solution</text>
<line x1="360.2" y1="209.71" x2="385.2" y2="209.71" stroke="#0000ff" stroke-width="2.4"/>
<text x="389.6" y="213.19" textLength="182.4" lengthAdjust="spacingAndGlyphs">Step 2, corrected plate solution</text>
<line x1="360.2" y1="227.78" x2="385.2" y2="227.78" stroke="#bf8040" stroke-width="2.4" stroke-dasharray="4.8 4.1"/>
<text x="389.6" y="231.32" textLength="163.0" lengthAdjust="spacingAndGlyphs">Step 3, initial plate solution</text>
<line x1="360.2" y1="245.85" x2="385.2" y2="245.85" stroke="#bf8040" stroke-width="2.4"/>
<text x="389.6" y="249.45" textLength="182.4" lengthAdjust="spacingAndGlyphs">Step 3, corrected plate solution</text>
<line x1="360.2" y1="263.92" x2="385.2" y2="263.92" stroke="#000000" stroke-width="2.4" stroke-dasharray="4.8 4.1"/>
<text x="389.6" y="267.58" textLength="163.0" lengthAdjust="spacingAndGlyphs">Step 4, initial plate solution</text>
<line x1="360.2" y1="281.99" x2="385.2" y2="281.99" stroke="#000000" stroke-width="2.4"/>
<text x="389.6" y="285.71" textLength="182.4" lengthAdjust="spacingAndGlyphs">Step 4, corrected plate solution</text>
<line x1="81.28" y1="316.85" x2="90.38" y2="316.85" stroke="#000" stroke-width="1"/>
<text x="91.18" y="322.0">200</text>
<line x1="141.68" y1="316.85" x2="150.78" y2="316.85" stroke="#000" stroke-width="1"/>
<text x="151.58" y="322.0">100</text>
<text x="213.65" y="322.0">0</text>
<text x="266.55" y="322.0">100</text>
<text x="326.95" y="322.0">200</text>
<text x="387.35" y="322.0">300</text>
<text x="48.90" y="70.0">0</text>
<line x1="19.25" y1="149.85" x2="28.35" y2="149.85" stroke="#000" stroke-width="1"/>
<text x="29.15" y="155.0">0.05</text>
<line x1="26.75" y1="233.85" x2="35.85" y2="233.85" stroke="#000" stroke-width="1"/>
<text x="36.65" y="239.0">0.1</text>
<text x="132.8" y="337.0" textLength="221.8" lengthAdjust="spacingAndGlyphs">position x (mm) for y=0, z= ± 10 mm</text>
<text transform="translate(10.0,216.6) rotate(-90)" textLength="127.0" lengthAdjust="spacingAndGlyphs">deflection w(x) (mm)</text>
<text x="303.8" y="21.5" style="font-size:14.7px">top</text>
<text x="303.8" y="39.6" style="font-size:14.7px">plate</text>
<text x="114.2" y="105.1" style="font-size:14.7px">bottom</text>
<text x="114.2" y="124" style="font-size:14.7px">plate</text>
</svg>
</body></html>
